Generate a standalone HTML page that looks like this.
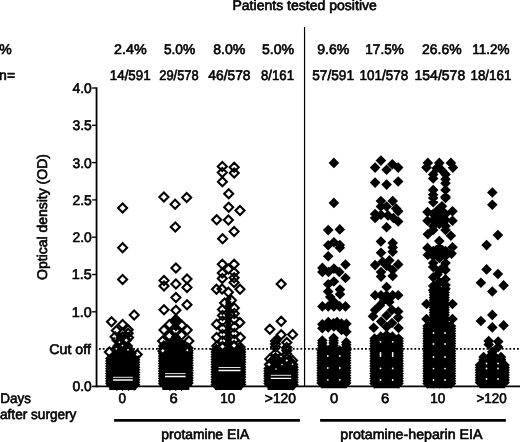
<!DOCTYPE html>
<html lang="en"><head><meta charset="utf-8"><title>Patients tested positive</title>
<style>html,body{margin:0;padding:0;background:#fff;overflow:hidden}svg{display:block;will-change:transform;filter:grayscale(1)}</style></head>
<body>
<svg width="520" height="442" viewBox="0 0 520 442" font-family="'Liberation Sans', Arial, sans-serif" fill="#000" stroke="#000" stroke-width="0.62" text-rendering="geometricPrecision">
<rect x="0" y="0" width="520" height="442" fill="#fff" stroke="none"/>
<g stroke="#000" fill="none">
<path d="M96.55 87.35V387.20" stroke-width="1.8"/>
<path d="M95.65 386.4H520" stroke-width="1.6"/>
<path d="M92.1 88.00H96" stroke-width="1.35"/>
<path d="M92.1 125.30H96" stroke-width="1.35"/>
<path d="M92.1 162.60H96" stroke-width="1.35"/>
<path d="M92.1 199.90H96" stroke-width="1.35"/>
<path d="M92.1 237.20H96" stroke-width="1.35"/>
<path d="M92.1 274.50H96" stroke-width="1.35"/>
<path d="M92.1 311.80H96" stroke-width="1.35"/>
<path d="M92.1 386.4H96" stroke-width="1.6"/>
</g>
<path d="M304.55 27V386" stroke="#000" stroke-width="1.2" fill="none"/>
<path d="M99.0 348.9H520" stroke="#000" stroke-width="1.8" stroke-dasharray="1.8 2.0" fill="none"/>
<path d="M114.1 420.3H299.9M320.1 420.3H505.9" stroke="#000" stroke-width="2.7" fill="none"/>
<path d="M115.6 336.0L119.8 331.8L124.0 336.0L119.8 340.2ZM115.6 338.0L119.8 333.8L124.0 338.0L119.8 342.2ZM115.6 340.0L119.8 335.8L124.0 340.0L119.8 344.2ZM115.6 342.0L119.8 337.8L124.0 342.0L119.8 346.2ZM115.6 344.0L119.8 339.8L124.0 344.0L119.8 348.2ZM115.6 346.0L119.8 341.8L124.0 346.0L119.8 350.2ZM115.6 348.0L119.8 343.8L124.0 348.0L119.8 352.2ZM115.6 350.0L119.8 345.8L124.0 350.0L119.8 354.2ZM115.6 352.0L119.8 347.8L124.0 352.0L119.8 356.2ZM121.4 336.0L125.6 331.8L129.8 336.0L125.6 340.2ZM121.4 338.0L125.6 333.8L129.8 338.0L125.6 342.2ZM121.4 340.0L125.6 335.8L129.8 340.0L125.6 344.2ZM121.4 342.0L125.6 337.8L129.8 342.0L125.6 346.2ZM121.4 344.0L125.6 339.8L129.8 344.0L125.6 348.2ZM121.4 346.0L125.6 341.8L129.8 346.0L125.6 350.2ZM121.4 348.0L125.6 343.8L129.8 348.0L125.6 352.2ZM121.4 350.0L125.6 345.8L129.8 350.0L125.6 354.2ZM121.4 352.0L125.6 347.8L129.8 352.0L125.6 356.2ZM112.1 346.0L117.1 341.0L122.1 346.0L117.1 351.0ZM112.1 348.0L117.1 343.0L122.1 348.0L117.1 353.0ZM112.1 350.0L117.1 345.0L122.1 350.0L117.1 355.0ZM112.1 352.0L117.1 347.0L122.1 352.0L117.1 357.0ZM112.1 354.0L117.1 349.0L122.1 354.0L117.1 359.0ZM117.7 346.0L122.7 341.0L127.7 346.0L122.7 351.0ZM117.7 348.0L122.7 343.0L127.7 348.0L122.7 353.0ZM117.7 350.0L122.7 345.0L127.7 350.0L122.7 355.0ZM117.7 352.0L122.7 347.0L127.7 352.0L122.7 357.0ZM117.7 354.0L122.7 349.0L127.7 354.0L122.7 359.0ZM123.3 346.0L128.3 341.0L133.3 346.0L128.3 351.0ZM123.3 348.0L128.3 343.0L133.3 348.0L128.3 353.0ZM123.3 350.0L128.3 345.0L133.3 350.0L128.3 355.0ZM123.3 352.0L128.3 347.0L133.3 352.0L128.3 357.0ZM123.3 354.0L128.3 349.0L133.3 354.0L128.3 359.0ZM108.0 352.6L114.0 346.6L120.0 352.6L114.0 358.6ZM108.0 355.1L114.0 349.1L120.0 355.1L114.0 361.1ZM113.8 353.4L119.8 347.4L125.8 353.4L119.8 359.4ZM113.8 355.9L119.8 349.9L125.8 355.9L119.8 361.9ZM119.6 352.9L125.6 346.9L131.6 352.9L125.6 358.9ZM119.6 355.4L125.6 349.4L131.6 355.4L125.6 361.4ZM125.4 353.5L131.4 347.5L137.4 353.5L131.4 359.5ZM125.4 356.0L131.4 350.0L137.4 356.0L131.4 362.0ZM110.9 357.0L116.9 351.0L122.9 357.0L116.9 363.0ZM110.9 359.0L116.9 353.0L122.9 359.0L116.9 365.0ZM110.9 361.0L116.9 355.0L122.9 361.0L116.9 367.0ZM110.9 363.0L116.9 357.0L122.9 363.0L116.9 369.0ZM110.9 365.0L116.9 359.0L122.9 365.0L116.9 371.0ZM110.9 367.0L116.9 361.0L122.9 367.0L116.9 373.0ZM110.9 369.0L116.9 363.0L122.9 369.0L116.9 375.0ZM110.9 371.0L116.9 365.0L122.9 371.0L116.9 377.0ZM110.9 373.0L116.9 367.0L122.9 373.0L116.9 379.0ZM110.9 375.0L116.9 369.0L122.9 375.0L116.9 381.0ZM110.9 377.0L116.9 371.0L122.9 377.0L116.9 383.0ZM110.9 379.0L116.9 373.0L122.9 379.0L116.9 385.0ZM110.9 381.0L116.9 375.0L122.9 381.0L116.9 387.0ZM110.9 383.0L116.9 377.0L122.9 383.0L116.9 389.0ZM110.9 385.0L116.9 379.0L122.9 385.0L116.9 391.0ZM116.7 357.0L122.7 351.0L128.7 357.0L122.7 363.0ZM116.7 359.0L122.7 353.0L128.7 359.0L122.7 365.0ZM116.7 361.0L122.7 355.0L128.7 361.0L122.7 367.0ZM116.7 363.0L122.7 357.0L128.7 363.0L122.7 369.0ZM116.7 365.0L122.7 359.0L128.7 365.0L122.7 371.0ZM116.7 367.0L122.7 361.0L128.7 367.0L122.7 373.0ZM116.7 369.0L122.7 363.0L128.7 369.0L122.7 375.0ZM116.7 371.0L122.7 365.0L128.7 371.0L122.7 377.0ZM116.7 373.0L122.7 367.0L128.7 373.0L122.7 379.0ZM116.7 375.0L122.7 369.0L128.7 375.0L122.7 381.0ZM116.7 377.0L122.7 371.0L128.7 377.0L122.7 383.0ZM116.7 379.0L122.7 373.0L128.7 379.0L122.7 385.0ZM116.7 381.0L122.7 375.0L128.7 381.0L122.7 387.0ZM116.7 383.0L122.7 377.0L128.7 383.0L122.7 389.0ZM116.7 385.0L122.7 379.0L128.7 385.0L122.7 391.0ZM122.6 357.0L128.6 351.0L134.6 357.0L128.6 363.0ZM122.6 359.0L128.6 353.0L134.6 359.0L128.6 365.0ZM122.6 361.0L128.6 355.0L134.6 361.0L128.6 367.0ZM122.6 363.0L128.6 357.0L134.6 363.0L128.6 369.0ZM122.6 365.0L128.6 359.0L134.6 365.0L128.6 371.0ZM122.6 367.0L128.6 361.0L134.6 367.0L128.6 373.0ZM122.6 369.0L128.6 363.0L134.6 369.0L128.6 375.0ZM122.6 371.0L128.6 365.0L134.6 371.0L128.6 377.0ZM122.6 373.0L128.6 367.0L134.6 373.0L128.6 379.0ZM122.6 375.0L128.6 369.0L134.6 375.0L128.6 381.0ZM122.6 377.0L128.6 371.0L134.6 377.0L128.6 383.0ZM122.6 379.0L128.6 373.0L134.6 379.0L128.6 385.0ZM122.6 381.0L128.6 375.0L134.6 381.0L128.6 387.0ZM122.6 383.0L128.6 377.0L134.6 383.0L128.6 389.0ZM122.6 385.0L128.6 379.0L134.6 385.0L128.6 391.0ZM105.0 358.6L111.0 352.6L117.0 358.6L111.0 364.6ZM105.0 361.1L111.0 355.1L117.0 361.1L111.0 367.1ZM105.0 363.6L111.0 357.6L117.0 363.6L111.0 369.6ZM105.0 366.1L111.0 360.1L117.0 366.1L111.0 372.1ZM105.0 368.6L111.0 362.6L117.0 368.6L111.0 374.6ZM105.0 371.1L111.0 365.1L117.0 371.1L111.0 377.1ZM105.0 373.6L111.0 367.6L117.0 373.6L111.0 379.6ZM105.0 376.1L111.0 370.1L117.0 376.1L111.0 382.1ZM105.0 378.6L111.0 372.6L117.0 378.6L111.0 384.6ZM105.0 381.1L111.0 375.1L117.0 381.1L111.0 387.1ZM105.0 383.6L111.0 377.6L117.0 383.6L111.0 389.6ZM128.4 357.2L134.4 351.2L140.4 357.2L134.4 363.2ZM128.4 359.7L134.4 353.7L140.4 359.7L134.4 365.7ZM128.4 362.2L134.4 356.2L140.4 362.2L134.4 368.2ZM128.4 364.7L134.4 358.7L140.4 364.7L134.4 370.7ZM128.4 367.2L134.4 361.2L140.4 367.2L134.4 373.2ZM128.4 369.7L134.4 363.7L140.4 369.7L134.4 375.7ZM128.4 372.2L134.4 366.2L140.4 372.2L134.4 378.2ZM128.4 374.7L134.4 368.7L140.4 374.7L134.4 380.7ZM128.4 377.2L134.4 371.2L140.4 377.2L134.4 383.2ZM128.4 379.7L134.4 373.7L140.4 379.7L134.4 385.7ZM128.4 382.2L134.4 376.2L140.4 382.2L134.4 388.2ZM128.4 384.7L134.4 378.7L140.4 384.7L134.4 390.7ZM109.2 378H136.2V390.1H109.2ZM106.4 370H139.0V386H106.4ZM172.2 320.0L175.8 316.4L179.4 320.0L175.8 323.6ZM172.2 322.0L175.8 318.4L179.4 322.0L175.8 325.6ZM172.2 324.0L175.8 320.4L179.4 324.0L175.8 327.6ZM172.2 326.0L175.8 322.4L179.4 326.0L175.8 329.6ZM172.2 328.0L175.8 324.4L179.4 328.0L175.8 331.6ZM170.8 337.0L175.8 332.0L180.8 337.0L175.8 342.0ZM170.8 339.0L175.8 334.0L180.8 339.0L175.8 344.0ZM170.8 341.0L175.8 336.0L180.8 341.0L175.8 346.0ZM170.8 343.0L175.8 338.0L180.8 343.0L175.8 348.0ZM170.8 345.0L175.8 340.0L180.8 345.0L175.8 350.0ZM170.8 347.0L175.8 342.0L180.8 347.0L175.8 352.0ZM166.0 342.0L170.0 338.0L174.0 342.0L170.0 346.0ZM166.0 344.0L170.0 340.0L174.0 344.0L170.0 348.0ZM166.0 346.0L170.0 342.0L174.0 346.0L170.0 350.0ZM177.6 342.0L181.6 338.0L185.6 342.0L181.6 346.0ZM177.6 344.0L181.6 340.0L185.6 344.0L181.6 348.0ZM177.6 346.0L181.6 342.0L185.6 346.0L181.6 350.0ZM164.0 347.0L170.0 341.0L176.0 347.0L170.0 353.0ZM164.0 349.0L170.0 343.0L176.0 349.0L170.0 355.0ZM164.0 351.0L170.0 345.0L176.0 351.0L170.0 357.0ZM164.0 353.0L170.0 347.0L176.0 353.0L170.0 359.0ZM164.0 355.0L170.0 349.0L176.0 355.0L170.0 361.0ZM164.0 357.0L170.0 351.0L176.0 357.0L170.0 363.0ZM164.0 359.0L170.0 353.0L176.0 359.0L170.0 365.0ZM164.0 361.0L170.0 355.0L176.0 361.0L170.0 367.0ZM164.0 363.0L170.0 357.0L176.0 363.0L170.0 369.0ZM164.0 365.0L170.0 359.0L176.0 365.0L170.0 371.0ZM164.0 367.0L170.0 361.0L176.0 367.0L170.0 373.0ZM164.0 369.0L170.0 363.0L176.0 369.0L170.0 375.0ZM164.0 371.0L170.0 365.0L176.0 371.0L170.0 377.0ZM164.0 373.0L170.0 367.0L176.0 373.0L170.0 379.0ZM164.0 375.0L170.0 369.0L176.0 375.0L170.0 381.0ZM164.0 377.0L170.0 371.0L176.0 377.0L170.0 383.0ZM164.0 379.0L170.0 373.0L176.0 379.0L170.0 385.0ZM164.0 381.0L170.0 375.0L176.0 381.0L170.0 387.0ZM164.0 383.0L170.0 377.0L176.0 383.0L170.0 389.0ZM164.0 385.0L170.0 379.0L176.0 385.0L170.0 391.0ZM169.8 347.0L175.8 341.0L181.8 347.0L175.8 353.0ZM169.8 349.0L175.8 343.0L181.8 349.0L175.8 355.0ZM169.8 351.0L175.8 345.0L181.8 351.0L175.8 357.0ZM169.8 353.0L175.8 347.0L181.8 353.0L175.8 359.0ZM169.8 355.0L175.8 349.0L181.8 355.0L175.8 361.0ZM169.8 357.0L175.8 351.0L181.8 357.0L175.8 363.0ZM169.8 359.0L175.8 353.0L181.8 359.0L175.8 365.0ZM169.8 361.0L175.8 355.0L181.8 361.0L175.8 367.0ZM169.8 363.0L175.8 357.0L181.8 363.0L175.8 369.0ZM169.8 365.0L175.8 359.0L181.8 365.0L175.8 371.0ZM169.8 367.0L175.8 361.0L181.8 367.0L175.8 373.0ZM169.8 369.0L175.8 363.0L181.8 369.0L175.8 375.0ZM169.8 371.0L175.8 365.0L181.8 371.0L175.8 377.0ZM169.8 373.0L175.8 367.0L181.8 373.0L175.8 379.0ZM169.8 375.0L175.8 369.0L181.8 375.0L175.8 381.0ZM169.8 377.0L175.8 371.0L181.8 377.0L175.8 383.0ZM169.8 379.0L175.8 373.0L181.8 379.0L175.8 385.0ZM169.8 381.0L175.8 375.0L181.8 381.0L175.8 387.0ZM169.8 383.0L175.8 377.0L181.8 383.0L175.8 389.0ZM169.8 385.0L175.8 379.0L181.8 385.0L175.8 391.0ZM175.6 347.0L181.6 341.0L187.6 347.0L181.6 353.0ZM175.6 349.0L181.6 343.0L187.6 349.0L181.6 355.0ZM175.6 351.0L181.6 345.0L187.6 351.0L181.6 357.0ZM175.6 353.0L181.6 347.0L187.6 353.0L181.6 359.0ZM175.6 355.0L181.6 349.0L187.6 355.0L181.6 361.0ZM175.6 357.0L181.6 351.0L187.6 357.0L181.6 363.0ZM175.6 359.0L181.6 353.0L187.6 359.0L181.6 365.0ZM175.6 361.0L181.6 355.0L187.6 361.0L181.6 367.0ZM175.6 363.0L181.6 357.0L187.6 363.0L181.6 369.0ZM175.6 365.0L181.6 359.0L187.6 365.0L181.6 371.0ZM175.6 367.0L181.6 361.0L187.6 367.0L181.6 373.0ZM175.6 369.0L181.6 363.0L187.6 369.0L181.6 375.0ZM175.6 371.0L181.6 365.0L187.6 371.0L181.6 377.0ZM175.6 373.0L181.6 367.0L187.6 373.0L181.6 379.0ZM175.6 375.0L181.6 369.0L187.6 375.0L181.6 381.0ZM175.6 377.0L181.6 371.0L187.6 377.0L181.6 383.0ZM175.6 379.0L181.6 373.0L187.6 379.0L181.6 385.0ZM175.6 381.0L181.6 375.0L187.6 381.0L181.6 387.0ZM175.6 383.0L181.6 377.0L187.6 383.0L181.6 389.0ZM175.6 385.0L181.6 379.0L187.6 385.0L181.6 391.0ZM157.8 346.0L163.8 340.0L169.8 346.0L163.8 352.0ZM157.8 348.5L163.8 342.5L169.8 348.5L163.8 354.5ZM157.8 351.0L163.8 345.0L169.8 351.0L163.8 357.0ZM157.8 353.5L163.8 347.5L169.8 353.5L163.8 359.5ZM157.8 356.0L163.8 350.0L169.8 356.0L163.8 362.0ZM157.8 358.5L163.8 352.5L169.8 358.5L163.8 364.5ZM157.8 361.0L163.8 355.0L169.8 361.0L163.8 367.0ZM157.8 363.5L163.8 357.5L169.8 363.5L163.8 369.5ZM157.8 366.0L163.8 360.0L169.8 366.0L163.8 372.0ZM157.8 368.5L163.8 362.5L169.8 368.5L163.8 374.5ZM157.8 371.0L163.8 365.0L169.8 371.0L163.8 377.0ZM157.8 373.5L163.8 367.5L169.8 373.5L163.8 379.5ZM157.8 376.0L163.8 370.0L169.8 376.0L163.8 382.0ZM157.8 378.5L163.8 372.5L169.8 378.5L163.8 384.5ZM157.8 381.0L163.8 375.0L169.8 381.0L163.8 387.0ZM157.8 383.5L163.8 377.5L169.8 383.5L163.8 389.5ZM181.8 348.1L187.8 342.1L193.8 348.1L187.8 354.1ZM181.8 350.6L187.8 344.6L193.8 350.6L187.8 356.6ZM181.8 353.1L187.8 347.1L193.8 353.1L187.8 359.1ZM181.8 355.6L187.8 349.6L193.8 355.6L187.8 361.6ZM181.8 358.1L187.8 352.1L193.8 358.1L187.8 364.1ZM181.8 360.6L187.8 354.6L193.8 360.6L187.8 366.6ZM181.8 363.1L187.8 357.1L193.8 363.1L187.8 369.1ZM181.8 365.6L187.8 359.6L193.8 365.6L187.8 371.6ZM181.8 368.1L187.8 362.1L193.8 368.1L187.8 374.1ZM181.8 370.6L187.8 364.6L193.8 370.6L187.8 376.6ZM181.8 373.1L187.8 367.1L193.8 373.1L187.8 379.1ZM181.8 375.6L187.8 369.6L193.8 375.6L187.8 381.6ZM181.8 378.1L187.8 372.1L193.8 378.1L187.8 384.1ZM181.8 380.6L187.8 374.6L193.8 380.6L187.8 386.6ZM181.8 383.1L187.8 377.1L193.8 383.1L187.8 389.1ZM162.3 378H189.3V390.1H162.3ZM159.5 370H192.1V386H159.5ZM225.0 299.0L228.4 295.6L231.8 299.0L228.4 302.4ZM225.0 301.0L228.4 297.6L231.8 301.0L228.4 304.4ZM225.0 303.0L228.4 299.6L231.8 303.0L228.4 306.4ZM225.0 305.0L228.4 301.6L231.8 305.0L228.4 308.4ZM225.0 307.0L228.4 303.6L231.8 307.0L228.4 310.4ZM225.0 309.0L228.4 305.6L231.8 309.0L228.4 312.4ZM225.0 311.0L228.4 307.6L231.8 311.0L228.4 314.4ZM225.0 313.0L228.4 309.6L231.8 313.0L228.4 316.4ZM225.0 315.0L228.4 311.6L231.8 315.0L228.4 318.4ZM225.0 317.0L228.4 313.6L231.8 317.0L228.4 320.4ZM225.0 319.0L228.4 315.6L231.8 319.0L228.4 322.4ZM225.0 321.0L228.4 317.6L231.8 321.0L228.4 324.4ZM225.0 323.0L228.4 319.6L231.8 323.0L228.4 326.4ZM225.0 325.0L228.4 321.6L231.8 325.0L228.4 328.4ZM225.0 327.0L228.4 323.6L231.8 327.0L228.4 330.4ZM225.0 329.0L228.4 325.6L231.8 329.0L228.4 332.4ZM225.0 331.0L228.4 327.6L231.8 331.0L228.4 334.4ZM225.0 333.0L228.4 329.6L231.8 333.0L228.4 336.4ZM225.0 335.0L228.4 331.6L231.8 335.0L228.4 338.4ZM225.0 337.0L228.4 333.6L231.8 337.0L228.4 340.4ZM225.0 339.0L228.4 335.6L231.8 339.0L228.4 342.4ZM225.0 341.0L228.4 337.6L231.8 341.0L228.4 344.4ZM225.0 343.0L228.4 339.6L231.8 343.0L228.4 346.4ZM225.0 345.0L228.4 341.6L231.8 345.0L228.4 348.4ZM225.0 347.0L228.4 343.6L231.8 347.0L228.4 350.4ZM216.6 347.5L222.6 341.5L228.6 347.5L222.6 353.5ZM216.6 349.5L222.6 343.5L228.6 349.5L222.6 355.5ZM216.6 351.5L222.6 345.5L228.6 351.5L222.6 357.5ZM216.6 353.5L222.6 347.5L228.6 353.5L222.6 359.5ZM216.6 355.5L222.6 349.5L228.6 355.5L222.6 361.5ZM216.6 357.5L222.6 351.5L228.6 357.5L222.6 363.5ZM216.6 359.5L222.6 353.5L228.6 359.5L222.6 365.5ZM216.6 361.5L222.6 355.5L228.6 361.5L222.6 367.5ZM216.6 363.5L222.6 357.5L228.6 363.5L222.6 369.5ZM216.6 365.5L222.6 359.5L228.6 365.5L222.6 371.5ZM216.6 367.5L222.6 361.5L228.6 367.5L222.6 373.5ZM216.6 369.5L222.6 363.5L228.6 369.5L222.6 375.5ZM216.6 371.5L222.6 365.5L228.6 371.5L222.6 377.5ZM216.6 373.5L222.6 367.5L228.6 373.5L222.6 379.5ZM216.6 375.5L222.6 369.5L228.6 375.5L222.6 381.5ZM216.6 377.5L222.6 371.5L228.6 377.5L222.6 383.5ZM216.6 379.5L222.6 373.5L228.6 379.5L222.6 385.5ZM216.6 381.5L222.6 375.5L228.6 381.5L222.6 387.5ZM216.6 383.5L222.6 377.5L228.6 383.5L222.6 389.5ZM222.4 347.5L228.4 341.5L234.4 347.5L228.4 353.5ZM222.4 349.5L228.4 343.5L234.4 349.5L228.4 355.5ZM222.4 351.5L228.4 345.5L234.4 351.5L228.4 357.5ZM222.4 353.5L228.4 347.5L234.4 353.5L228.4 359.5ZM222.4 355.5L228.4 349.5L234.4 355.5L228.4 361.5ZM222.4 357.5L228.4 351.5L234.4 357.5L228.4 363.5ZM222.4 359.5L228.4 353.5L234.4 359.5L228.4 365.5ZM222.4 361.5L228.4 355.5L234.4 361.5L228.4 367.5ZM222.4 363.5L228.4 357.5L234.4 363.5L228.4 369.5ZM222.4 365.5L228.4 359.5L234.4 365.5L228.4 371.5ZM222.4 367.5L228.4 361.5L234.4 367.5L228.4 373.5ZM222.4 369.5L228.4 363.5L234.4 369.5L228.4 375.5ZM222.4 371.5L228.4 365.5L234.4 371.5L228.4 377.5ZM222.4 373.5L228.4 367.5L234.4 373.5L228.4 379.5ZM222.4 375.5L228.4 369.5L234.4 375.5L228.4 381.5ZM222.4 377.5L228.4 371.5L234.4 377.5L228.4 383.5ZM222.4 379.5L228.4 373.5L234.4 379.5L228.4 385.5ZM222.4 381.5L228.4 375.5L234.4 381.5L228.4 387.5ZM222.4 383.5L228.4 377.5L234.4 383.5L228.4 389.5ZM228.2 347.5L234.2 341.5L240.2 347.5L234.2 353.5ZM228.2 349.5L234.2 343.5L240.2 349.5L234.2 355.5ZM228.2 351.5L234.2 345.5L240.2 351.5L234.2 357.5ZM228.2 353.5L234.2 347.5L240.2 353.5L234.2 359.5ZM228.2 355.5L234.2 349.5L240.2 355.5L234.2 361.5ZM228.2 357.5L234.2 351.5L240.2 357.5L234.2 363.5ZM228.2 359.5L234.2 353.5L240.2 359.5L234.2 365.5ZM228.2 361.5L234.2 355.5L240.2 361.5L234.2 367.5ZM228.2 363.5L234.2 357.5L240.2 363.5L234.2 369.5ZM228.2 365.5L234.2 359.5L240.2 365.5L234.2 371.5ZM228.2 367.5L234.2 361.5L240.2 367.5L234.2 373.5ZM228.2 369.5L234.2 363.5L240.2 369.5L234.2 375.5ZM228.2 371.5L234.2 365.5L240.2 371.5L234.2 377.5ZM228.2 373.5L234.2 367.5L240.2 373.5L234.2 379.5ZM228.2 375.5L234.2 369.5L240.2 375.5L234.2 381.5ZM228.2 377.5L234.2 371.5L240.2 377.5L234.2 383.5ZM228.2 379.5L234.2 373.5L240.2 379.5L234.2 385.5ZM228.2 381.5L234.2 375.5L240.2 381.5L234.2 387.5ZM228.2 383.5L234.2 377.5L240.2 383.5L234.2 389.5ZM210.4 349.6L216.4 343.6L222.4 349.6L216.4 355.6ZM210.4 352.1L216.4 346.1L222.4 352.1L216.4 358.1ZM210.4 354.6L216.4 348.6L222.4 354.6L216.4 360.6ZM210.4 357.1L216.4 351.1L222.4 357.1L216.4 363.1ZM210.4 359.6L216.4 353.6L222.4 359.6L216.4 365.6ZM210.4 362.1L216.4 356.1L222.4 362.1L216.4 368.1ZM210.4 364.6L216.4 358.6L222.4 364.6L216.4 370.6ZM210.4 367.1L216.4 361.1L222.4 367.1L216.4 373.1ZM210.4 369.6L216.4 363.6L222.4 369.6L216.4 375.6ZM210.4 372.1L216.4 366.1L222.4 372.1L216.4 378.1ZM210.4 374.6L216.4 368.6L222.4 374.6L216.4 380.6ZM210.4 377.1L216.4 371.1L222.4 377.1L216.4 383.1ZM210.4 379.6L216.4 373.6L222.4 379.6L216.4 385.6ZM210.4 382.1L216.4 376.1L222.4 382.1L216.4 388.1ZM210.4 384.6L216.4 378.6L222.4 384.6L216.4 390.6ZM234.4 349.6L240.4 343.6L246.4 349.6L240.4 355.6ZM234.4 352.1L240.4 346.1L246.4 352.1L240.4 358.1ZM234.4 354.6L240.4 348.6L246.4 354.6L240.4 360.6ZM234.4 357.1L240.4 351.1L246.4 357.1L240.4 363.1ZM234.4 359.6L240.4 353.6L246.4 359.6L240.4 365.6ZM234.4 362.1L240.4 356.1L246.4 362.1L240.4 368.1ZM234.4 364.6L240.4 358.6L246.4 364.6L240.4 370.6ZM234.4 367.1L240.4 361.1L246.4 367.1L240.4 373.1ZM234.4 369.6L240.4 363.6L246.4 369.6L240.4 375.6ZM234.4 372.1L240.4 366.1L246.4 372.1L240.4 378.1ZM234.4 374.6L240.4 368.6L246.4 374.6L240.4 380.6ZM234.4 377.1L240.4 371.1L246.4 377.1L240.4 383.1ZM234.4 379.6L240.4 373.6L246.4 379.6L240.4 385.6ZM234.4 382.1L240.4 376.1L246.4 382.1L240.4 388.1ZM234.4 384.6L240.4 378.6L246.4 384.6L240.4 390.6ZM214.9 378H241.9V390.1H214.9ZM212.1 370H244.7V386H212.1ZM270.0 358.5L275.5 353.0L281.0 358.5L275.5 364.0ZM270.0 360.5L275.5 355.0L281.0 360.5L275.5 366.0ZM266.4 361.0L272.4 355.0L278.4 361.0L272.4 367.0ZM266.4 363.0L272.4 357.0L278.4 363.0L272.4 369.0ZM266.4 365.0L272.4 359.0L278.4 365.0L272.4 371.0ZM272.1 361.0L278.1 355.0L284.1 361.0L278.1 367.0ZM272.1 363.0L278.1 357.0L284.1 363.0L278.1 369.0ZM272.1 365.0L278.1 359.0L284.1 365.0L278.1 371.0ZM277.9 361.0L283.9 355.0L289.9 361.0L283.9 367.0ZM277.9 363.0L283.9 357.0L289.9 363.0L283.9 369.0ZM277.9 365.0L283.9 359.0L289.9 365.0L283.9 371.0ZM283.6 361.0L289.6 355.0L295.6 361.0L289.6 367.0ZM283.6 363.0L289.6 357.0L295.6 363.0L289.6 369.0ZM283.6 365.0L289.6 359.0L295.6 365.0L289.6 371.0ZM269.2 364.0L275.2 358.0L281.2 364.0L275.2 370.0ZM269.2 366.0L275.2 360.0L281.2 366.0L275.2 372.0ZM269.2 368.0L275.2 362.0L281.2 368.0L275.2 374.0ZM269.2 370.0L275.2 364.0L281.2 370.0L275.2 376.0ZM269.2 372.0L275.2 366.0L281.2 372.0L275.2 378.0ZM269.2 374.0L275.2 368.0L281.2 374.0L275.2 380.0ZM269.2 376.0L275.2 370.0L281.2 376.0L275.2 382.0ZM269.2 378.0L275.2 372.0L281.2 378.0L275.2 384.0ZM269.2 380.0L275.2 374.0L281.2 380.0L275.2 386.0ZM269.2 382.0L275.2 376.0L281.2 382.0L275.2 388.0ZM269.2 384.0L275.2 378.0L281.2 384.0L275.2 390.0ZM275.0 364.0L281.0 358.0L287.0 364.0L281.0 370.0ZM275.0 366.0L281.0 360.0L287.0 366.0L281.0 372.0ZM275.0 368.0L281.0 362.0L287.0 368.0L281.0 374.0ZM275.0 370.0L281.0 364.0L287.0 370.0L281.0 376.0ZM275.0 372.0L281.0 366.0L287.0 372.0L281.0 378.0ZM275.0 374.0L281.0 368.0L287.0 374.0L281.0 380.0ZM275.0 376.0L281.0 370.0L287.0 376.0L281.0 382.0ZM275.0 378.0L281.0 372.0L287.0 378.0L281.0 384.0ZM275.0 380.0L281.0 374.0L287.0 380.0L281.0 386.0ZM275.0 382.0L281.0 376.0L287.0 382.0L281.0 388.0ZM275.0 384.0L281.0 378.0L287.0 384.0L281.0 390.0ZM280.8 364.0L286.8 358.0L292.8 364.0L286.8 370.0ZM280.8 366.0L286.8 360.0L292.8 366.0L286.8 372.0ZM280.8 368.0L286.8 362.0L292.8 368.0L286.8 374.0ZM280.8 370.0L286.8 364.0L292.8 370.0L286.8 376.0ZM280.8 372.0L286.8 366.0L292.8 372.0L286.8 378.0ZM280.8 374.0L286.8 368.0L292.8 374.0L286.8 380.0ZM280.8 376.0L286.8 370.0L292.8 376.0L286.8 382.0ZM280.8 378.0L286.8 372.0L292.8 378.0L286.8 384.0ZM280.8 380.0L286.8 374.0L292.8 380.0L286.8 386.0ZM280.8 382.0L286.8 376.0L292.8 382.0L286.8 388.0ZM280.8 384.0L286.8 378.0L292.8 384.0L286.8 390.0ZM263.2 368.5L269.2 362.5L275.2 368.5L269.2 374.5ZM263.2 371.0L269.2 365.0L275.2 371.0L269.2 377.0ZM263.2 373.5L269.2 367.5L275.2 373.5L269.2 379.5ZM263.2 376.0L269.2 370.0L275.2 376.0L269.2 382.0ZM263.2 378.5L269.2 372.5L275.2 378.5L269.2 384.5ZM263.2 381.0L269.2 375.0L275.2 381.0L269.2 387.0ZM263.2 383.5L269.2 377.5L275.2 383.5L269.2 389.5ZM286.8 367.2L292.8 361.2L298.8 367.2L292.8 373.2ZM286.8 369.7L292.8 363.7L298.8 369.7L292.8 375.7ZM286.8 372.2L292.8 366.2L298.8 372.2L292.8 378.2ZM286.8 374.7L292.8 368.7L298.8 374.7L292.8 380.7ZM286.8 377.2L292.8 371.2L298.8 377.2L292.8 383.2ZM286.8 379.7L292.8 373.7L298.8 379.7L292.8 385.7ZM286.8 382.2L292.8 376.2L298.8 382.2L292.8 388.2ZM286.8 384.7L292.8 378.7L298.8 384.7L292.8 390.7ZM267.5 378H294.5V390.1H267.5ZM264.7 370H297.3V386H264.7Z" fill="#000" stroke="none"/>
<path d="M118.1 208.1L122.6 203.6L127.1 208.1L122.6 212.6ZM118.1 247.8L122.6 243.3L127.1 247.8L122.6 252.3ZM118.1 279.6L122.6 275.1L127.1 279.6L122.6 284.1ZM107.0 321.7L111.5 317.2L116.0 321.7L111.5 326.2ZM129.7 315.1L134.2 310.6L138.7 315.1L134.2 319.6ZM118.1 324.4L122.6 319.9L127.1 324.4L122.6 328.9ZM111.9 330.6L116.4 326.1L120.9 330.6L116.4 335.1ZM123.7 329.8L128.2 325.3L132.7 329.8L128.2 334.3ZM123.7 333.2L128.2 328.7L132.7 333.2L128.2 337.7ZM110.6 336.8L115.1 332.3L119.6 336.8L115.1 341.3ZM121.8 340.3L126.3 335.8L130.8 340.3L126.3 344.8ZM114.9 342.2L119.4 337.7L123.9 342.2L119.4 346.7ZM118.0 345.5L122.5 341.0L127.0 345.5L122.5 350.0ZM111.8 348.8L116.3 344.3L120.8 348.8L116.3 353.3ZM123.5 349.8L128.0 345.3L132.5 349.8L128.0 354.3ZM104.9 351.9L109.4 347.4L113.9 351.9L109.4 356.4ZM132.7 354.6L137.2 350.1L141.7 354.6L137.2 359.1ZM118.1 337.0L122.6 332.5L127.1 337.0L122.6 341.5ZM118.1 333.0L122.6 328.5L127.1 333.0L122.6 337.5ZM124.0 337.5L128.5 333.0L133.0 337.5L128.5 342.0ZM112.5 340.0L117.0 335.5L121.5 340.0L117.0 344.5ZM159.4 197.0L163.9 192.5L168.4 197.0L163.9 201.5ZM170.6 204.2L175.1 199.7L179.6 204.2L175.1 208.7ZM182.2 197.4L186.7 192.9L191.2 197.4L186.7 201.9ZM170.8 227.0L175.3 222.5L179.8 227.0L175.3 231.5ZM171.4 268.0L175.9 263.5L180.4 268.0L175.9 272.5ZM159.5 280.6L164.0 276.1L168.5 280.6L164.0 285.1ZM159.5 286.0L164.0 281.5L168.5 286.0L164.0 290.5ZM171.4 284.0L175.9 279.5L180.4 284.0L175.9 288.5ZM182.5 279.0L187.0 274.5L191.5 279.0L187.0 283.5ZM182.5 287.4L187.0 282.9L191.5 287.4L187.0 291.9ZM171.4 297.6L175.9 293.1L180.4 297.6L175.9 302.1ZM182.5 304.8L187.0 300.3L191.5 304.8L187.0 309.3ZM159.5 309.8L164.0 305.3L168.5 309.8L164.0 314.3ZM171.4 310.3L175.9 305.8L180.4 310.3L175.9 314.8ZM171.3 319.5L175.8 315.0L180.3 319.5L175.8 324.0ZM171.3 322.5L175.8 318.0L180.3 322.5L175.8 327.0ZM165.0 324.5L169.5 320.0L174.0 324.5L169.5 329.0ZM177.3 325.2L181.8 320.7L186.3 325.2L181.8 329.7ZM159.5 330.0L164.0 325.5L168.5 330.0L164.0 334.5ZM171.1 330.4L175.6 325.9L180.1 330.4L175.6 334.9ZM182.7 330.0L187.2 325.5L191.7 330.0L187.2 334.5ZM164.8 336.0L169.3 331.5L173.8 336.0L169.3 340.5ZM177.1 335.3L181.6 330.8L186.1 335.3L181.6 339.8ZM158.1 341.0L162.6 336.5L167.1 341.0L162.6 345.5ZM184.3 341.0L188.8 336.5L193.3 341.0L188.8 345.5ZM171.3 341.0L175.8 336.5L180.3 341.0L175.8 345.5ZM164.5 346.5L169.0 342.0L173.5 346.5L169.0 351.0ZM177.5 346.5L182.0 342.0L186.5 346.5L182.0 351.0ZM158.5 351.0L163.0 346.5L167.5 351.0L163.0 355.5ZM182.8 351.0L187.3 346.5L191.8 351.0L187.3 355.5ZM182.8 348.5L187.3 344.0L191.8 348.5L187.3 353.0ZM217.8 166.5L222.3 162.0L226.8 166.5L222.3 171.0ZM217.8 172.4L222.3 167.9L226.8 172.4L222.3 176.9ZM229.7 167.3L234.2 162.8L238.7 167.3L234.2 171.8ZM229.7 172.9L234.2 168.4L238.7 172.9L234.2 177.4ZM217.9 181.8L222.4 177.3L226.9 181.8L222.4 186.3ZM224.2 193.7L228.7 189.2L233.2 193.7L228.7 198.2ZM224.2 207.2L228.7 202.7L233.2 207.2L228.7 211.7ZM235.5 210.6L240.0 206.1L244.5 210.6L240.0 215.1ZM212.2 219.7L216.7 215.2L221.2 219.7L216.7 224.2ZM223.9 220.0L228.4 215.5L232.9 220.0L228.4 224.5ZM229.6 231.5L234.1 227.0L238.6 231.5L234.1 236.0ZM218.1 238.7L222.6 234.2L227.1 238.7L222.6 243.2ZM217.8 264.2L222.3 259.7L226.8 264.2L222.3 268.7ZM229.6 264.2L234.1 259.7L238.6 264.2L234.1 268.7ZM223.9 269.0L228.4 264.5L232.9 269.0L228.4 273.5ZM217.8 273.0L222.3 268.5L226.8 273.0L222.3 277.5ZM229.6 272.4L234.1 267.9L238.6 272.4L234.1 276.9ZM217.8 278.5L222.3 274.0L226.8 278.5L222.3 283.0ZM229.6 277.8L234.1 273.3L238.6 277.8L234.1 282.3ZM229.6 282.6L234.1 278.1L238.6 282.6L234.1 287.1ZM212.0 289.3L216.5 284.8L221.0 289.3L216.5 293.8ZM217.5 289.0L222.0 284.5L226.5 289.0L222.0 293.5ZM235.5 289.3L240.0 284.8L244.5 289.3L240.0 293.8ZM223.9 292.3L228.4 287.8L232.9 292.3L228.4 296.8ZM226.9 300.2L231.4 295.7L235.9 300.2L231.4 304.7ZM220.1 303.0L224.6 298.5L229.1 303.0L224.6 307.5ZM218.0 309.4L222.5 304.9L227.0 309.4L222.5 313.9ZM229.8 308.0L234.3 303.5L238.8 308.0L234.3 312.5ZM225.7 314.8L230.2 310.3L234.7 314.8L230.2 319.3ZM218.0 315.5L222.5 311.0L227.0 315.5L222.5 320.0ZM229.8 313.5L234.3 309.0L238.8 313.5L234.3 318.0ZM229.8 319.2L234.3 314.7L238.8 319.2L234.3 323.7ZM218.0 321.0L222.5 316.5L227.0 321.0L222.5 325.5ZM212.1 324.2L216.6 319.7L221.1 324.2L216.6 328.7ZM235.3 322.6L239.8 318.1L244.3 322.6L239.8 327.1ZM218.0 328.5L222.5 324.0L227.0 328.5L222.5 333.0ZM229.8 327.0L234.3 322.5L238.8 327.0L234.3 331.5ZM218.0 334.4L222.5 329.9L227.0 334.4L222.5 338.9ZM229.8 333.5L234.3 329.0L238.8 333.5L234.3 338.0ZM212.1 337.6L216.6 333.1L221.1 337.6L216.6 342.1ZM235.9 337.6L240.4 333.1L244.9 337.6L240.4 342.1ZM218.0 341.0L222.5 336.5L227.0 341.0L222.5 345.5ZM229.8 340.0L234.3 335.5L238.8 340.0L234.3 344.5ZM218.0 346.4L222.5 341.9L227.0 346.4L222.5 350.9ZM229.5 345.4L234.0 340.9L238.5 345.4L234.0 349.9ZM212.3 346.0L216.8 341.5L221.3 346.0L216.8 350.5ZM235.5 347.0L240.0 342.5L244.5 347.0L240.0 351.5ZM276.7 284.0L281.2 279.5L285.7 284.0L281.2 288.5ZM276.7 321.2L281.2 316.7L285.7 321.2L281.2 325.7ZM265.3 329.3L269.8 324.8L274.3 329.3L269.8 333.8ZM276.7 334.8L281.2 330.3L285.7 334.8L281.2 339.3ZM288.1 334.5L292.6 330.0L297.1 334.5L292.6 339.0ZM271.0 341.0L275.5 336.5L280.0 341.0L275.5 345.5ZM271.0 344.0L275.5 339.5L280.0 344.0L275.5 348.5ZM271.0 347.0L275.5 342.5L280.0 347.0L275.5 351.5ZM282.3 342.4L286.8 337.9L291.3 342.4L286.8 346.9ZM282.3 347.6L286.8 343.1L291.3 347.6L286.8 352.1ZM282.3 350.5L286.8 346.0L291.3 350.5L286.8 355.0ZM282.3 354.0L286.8 349.5L291.3 354.0L286.8 358.5ZM271.0 353.5L275.5 349.0L280.0 353.5L275.5 358.0ZM265.3 359.0L269.8 354.5L274.3 359.0L269.8 363.5ZM276.5 358.5L281.0 354.0L285.5 358.5L281.0 363.0ZM271.0 358.0L275.5 353.5L280.0 358.0L275.5 362.5ZM282.3 358.5L286.8 354.0L291.3 358.5L286.8 363.0ZM265.0 364.5L269.5 360.0L274.0 364.5L269.5 369.0ZM271.0 363.0L275.5 358.5L280.0 363.0L275.5 367.5ZM277.0 364.5L281.5 360.0L286.0 364.5L281.5 369.0ZM282.5 362.0L287.0 357.5L291.5 362.0L287.0 366.5ZM288.1 360.5L292.6 356.0L297.1 360.5L292.6 365.0ZM288.1 364.5L292.6 360.0L297.1 364.5L292.6 369.0Z" fill="none" stroke="#000" stroke-width="2.1" stroke-linejoin="miter"/>
<path d="M113.8 336.8L115.1 335.5L116.4 336.8L115.1 338.1ZM124.6 340.3L126.3 338.6L128.0 340.3L126.3 342.0ZM118.3 342.2L119.4 341.1L120.5 342.2L119.4 343.3ZM121.4 345.5L122.5 344.4L123.6 345.5L122.5 346.6ZM115.2 348.8L116.3 347.7L117.4 348.8L116.3 349.9ZM126.9 349.8L128.0 348.7L129.1 349.8L128.0 350.9ZM106.8 351.9L109.4 349.3L112.0 351.9L109.4 354.5ZM135.6 354.6L137.2 353.0L138.8 354.6L137.2 356.2ZM161.0 350.8L162.8 349.0L164.6 350.8L162.8 352.6ZM186.1 350.2L187.3 349.0L188.5 350.2L187.3 351.4ZM220.3 346.6L222.5 344.4L224.7 346.6L222.5 348.8ZM231.8 345.6L234.0 343.4L236.2 345.6L234.0 347.8ZM267.2 364.5L269.0 362.7L270.8 364.5L269.0 366.3ZM281.0 364.5L282.0 363.5L283.0 364.5L282.0 365.5ZM285.5 360.5L286.8 359.2L288.1 360.5L286.8 361.8ZM291.5 364.3L292.5 363.3L293.5 364.3L292.5 365.3ZM275.1 369.0L276.0 368.1L276.9 369.0L276.0 369.9Z" fill="#fff" stroke="none"/>
<path d="M328.6 162.9L333.9 157.6L339.2 162.9L333.9 168.2ZM328.6 202.9L333.9 197.6L339.2 202.9L333.9 208.2ZM322.9 230.1L328.2 224.8L333.5 230.1L328.2 235.4ZM334.5 229.4L339.8 224.1L345.1 229.4L339.8 234.7ZM328.6 242.3L333.9 237.0L339.2 242.3L333.9 247.6ZM322.9 245.3L328.2 240.0L333.5 245.3L328.2 250.6ZM334.5 245.0L339.8 239.7L345.1 245.0L339.8 250.3ZM334.5 247.7L339.8 242.4L345.1 247.7L339.8 253.0ZM322.9 256.3L328.2 251.0L333.5 256.3L328.2 261.6ZM340.2 264.5L345.5 259.2L350.8 264.5L345.5 269.8ZM317.1 267.9L322.4 262.6L327.7 267.9L322.4 273.2ZM328.6 268.6L333.9 263.3L339.2 268.6L333.9 273.9ZM317.1 272.0L322.4 266.7L327.7 272.0L322.4 277.3ZM323.2 272.0L328.5 266.7L333.8 272.0L328.5 277.3ZM334.0 272.0L339.3 266.7L344.6 272.0L339.3 277.3ZM340.2 278.0L345.5 272.7L350.8 278.0L345.5 283.3ZM328.6 281.5L333.9 276.2L339.2 281.5L333.9 286.8ZM322.9 284.2L328.2 278.9L333.5 284.2L328.2 289.5ZM334.7 289.6L340.0 284.3L345.3 289.6L340.0 294.9ZM322.9 291.6L328.2 286.3L333.5 291.6L328.2 296.9ZM334.7 294.3L340.0 289.0L345.3 294.3L340.0 299.6ZM324.9 297.0L330.2 291.7L335.5 297.0L330.2 302.3ZM328.6 301.8L333.9 296.5L339.2 301.8L333.9 307.1ZM317.1 306.4L322.4 301.1L327.7 306.4L322.4 311.7ZM322.9 306.4L328.2 301.1L333.5 306.4L328.2 311.7ZM328.6 306.4L333.9 301.1L339.2 306.4L333.9 311.7ZM334.4 306.4L339.7 301.1L345.0 306.4L339.7 311.7ZM340.2 306.4L345.5 301.1L350.8 306.4L345.5 311.7ZM317.0 324.2L322.3 318.9L327.6 324.2L322.3 329.5ZM323.0 322.0L328.3 316.7L333.6 322.0L328.3 327.3ZM328.2 323.2L333.5 317.9L338.8 323.2L333.5 328.5ZM331.7 322.0L337.0 316.7L342.3 322.0L337.0 327.3ZM336.2 323.5L341.5 318.2L346.8 323.5L341.5 328.8ZM341.1 323.8L346.4 318.5L351.7 323.8L346.4 329.1ZM317.0 328.2L322.3 322.9L327.6 328.2L322.3 333.5ZM322.9 327.5L328.2 322.2L333.5 327.5L328.2 332.8ZM328.6 326.5L333.9 321.2L339.2 326.5L333.9 331.8ZM334.4 327.5L339.7 322.2L345.0 327.5L339.7 332.8ZM338.7 328.0L344.0 322.7L349.3 328.0L344.0 333.3ZM341.1 331.8L346.4 326.5L351.7 331.8L346.4 337.1ZM336.2 330.0L341.5 324.7L346.8 330.0L341.5 335.3ZM328.3 338.0L333.6 332.7L338.9 338.0L333.6 343.3ZM328.3 340.5L333.6 335.2L338.9 340.5L333.6 345.8ZM328.3 343.0L333.6 337.7L338.9 343.0L333.6 348.3ZM328.3 345.5L333.6 340.2L338.9 345.5L333.6 350.8ZM328.3 348.0L333.6 342.7L338.9 348.0L333.6 353.3ZM317.0 340.5L322.3 335.2L327.6 340.5L322.3 345.8ZM317.0 343.0L322.3 337.7L327.6 343.0L322.3 348.3ZM317.0 345.5L322.3 340.2L327.6 345.5L322.3 350.8ZM317.0 348.0L322.3 342.7L327.6 348.0L322.3 353.3ZM341.0 342.3L346.3 337.0L351.6 342.3L346.3 347.6ZM341.0 344.8L346.3 339.5L351.6 344.8L346.3 350.1ZM341.0 347.3L346.3 342.0L351.6 347.3L346.3 352.6ZM341.0 349.8L346.3 344.5L351.6 349.8L346.3 355.1ZM316.3 350.5L321.6 345.2L326.9 350.5L321.6 355.8ZM322.8 350.5L328.1 345.2L333.4 350.5L328.1 355.8ZM328.6 350.5L333.9 345.2L339.2 350.5L333.9 355.8ZM334.4 350.5L339.7 345.2L345.0 350.5L339.7 355.8ZM340.9 350.5L346.2 345.2L351.5 350.5L346.2 355.8ZM316.3 353.0L321.6 347.7L326.9 353.0L321.6 358.3ZM322.8 353.0L328.1 347.7L333.4 353.0L328.1 358.3ZM328.6 353.0L333.9 347.7L339.2 353.0L333.9 358.3ZM334.4 353.0L339.7 347.7L345.0 353.0L339.7 358.3ZM340.9 353.0L346.2 347.7L351.5 353.0L346.2 358.3ZM316.3 355.5L321.6 350.2L326.9 355.5L321.6 360.8ZM322.8 355.5L328.1 350.2L333.4 355.5L328.1 360.8ZM328.6 355.5L333.9 350.2L339.2 355.5L333.9 360.8ZM334.4 355.5L339.7 350.2L345.0 355.5L339.7 360.8ZM340.9 355.5L346.2 350.2L351.5 355.5L346.2 360.8ZM316.3 358.0L321.6 352.7L326.9 358.0L321.6 363.3ZM322.8 358.0L328.1 352.7L333.4 358.0L328.1 363.3ZM328.6 358.0L333.9 352.7L339.2 358.0L333.9 363.3ZM334.4 358.0L339.7 352.7L345.0 358.0L339.7 363.3ZM340.9 358.0L346.2 352.7L351.5 358.0L346.2 363.3ZM316.3 360.5L321.6 355.2L326.9 360.5L321.6 365.8ZM322.8 360.5L328.1 355.2L333.4 360.5L328.1 365.8ZM328.6 360.5L333.9 355.2L339.2 360.5L333.9 365.8ZM334.4 360.5L339.7 355.2L345.0 360.5L339.7 365.8ZM340.9 360.5L346.2 355.2L351.5 360.5L346.2 365.8ZM316.3 363.0L321.6 357.7L326.9 363.0L321.6 368.3ZM322.8 363.0L328.1 357.7L333.4 363.0L328.1 368.3ZM328.6 363.0L333.9 357.7L339.2 363.0L333.9 368.3ZM334.4 363.0L339.7 357.7L345.0 363.0L339.7 368.3ZM340.9 363.0L346.2 357.7L351.5 363.0L346.2 368.3ZM316.3 365.5L321.6 360.2L326.9 365.5L321.6 370.8ZM322.8 365.5L328.1 360.2L333.4 365.5L328.1 370.8ZM328.6 365.5L333.9 360.2L339.2 365.5L333.9 370.8ZM334.4 365.5L339.7 360.2L345.0 365.5L339.7 370.8ZM340.9 365.5L346.2 360.2L351.5 365.5L346.2 370.8ZM316.3 368.0L321.6 362.7L326.9 368.0L321.6 373.3ZM322.8 368.0L328.1 362.7L333.4 368.0L328.1 373.3ZM328.6 368.0L333.9 362.7L339.2 368.0L333.9 373.3ZM334.4 368.0L339.7 362.7L345.0 368.0L339.7 373.3ZM340.9 368.0L346.2 362.7L351.5 368.0L346.2 373.3ZM316.3 370.5L321.6 365.2L326.9 370.5L321.6 375.8ZM322.8 370.5L328.1 365.2L333.4 370.5L328.1 375.8ZM328.6 370.5L333.9 365.2L339.2 370.5L333.9 375.8ZM334.4 370.5L339.7 365.2L345.0 370.5L339.7 375.8ZM340.9 370.5L346.2 365.2L351.5 370.5L346.2 375.8ZM316.3 373.0L321.6 367.7L326.9 373.0L321.6 378.3ZM322.8 373.0L328.1 367.7L333.4 373.0L328.1 378.3ZM328.6 373.0L333.9 367.7L339.2 373.0L333.9 378.3ZM334.4 373.0L339.7 367.7L345.0 373.0L339.7 378.3ZM340.9 373.0L346.2 367.7L351.5 373.0L346.2 378.3ZM316.3 375.5L321.6 370.2L326.9 375.5L321.6 380.8ZM322.8 375.5L328.1 370.2L333.4 375.5L328.1 380.8ZM328.6 375.5L333.9 370.2L339.2 375.5L333.9 380.8ZM334.4 375.5L339.7 370.2L345.0 375.5L339.7 380.8ZM340.9 375.5L346.2 370.2L351.5 375.5L346.2 380.8ZM316.3 378.0L321.6 372.7L326.9 378.0L321.6 383.3ZM322.8 378.0L328.1 372.7L333.4 378.0L328.1 383.3ZM328.6 378.0L333.9 372.7L339.2 378.0L333.9 383.3ZM334.4 378.0L339.7 372.7L345.0 378.0L339.7 383.3ZM340.9 378.0L346.2 372.7L351.5 378.0L346.2 383.3ZM316.3 380.5L321.6 375.2L326.9 380.5L321.6 385.8ZM322.8 380.5L328.1 375.2L333.4 380.5L328.1 385.8ZM328.6 380.5L333.9 375.2L339.2 380.5L333.9 385.8ZM334.4 380.5L339.7 375.2L345.0 380.5L339.7 385.8ZM340.9 380.5L346.2 375.2L351.5 380.5L346.2 385.8ZM316.3 383.0L321.6 377.7L326.9 383.0L321.6 388.3ZM322.8 383.0L328.1 377.7L333.4 383.0L328.1 388.3ZM328.6 383.0L333.9 377.7L339.2 383.0L333.9 388.3ZM334.4 383.0L339.7 377.7L345.0 383.0L339.7 388.3ZM340.9 383.0L346.2 377.7L351.5 383.0L346.2 388.3ZM320.9 378H346.9V388.3H320.9ZM321.6 352H346.2V384H321.6ZM375.6 160.6L380.9 155.3L386.2 160.6L380.9 165.9ZM369.8 167.6L375.1 162.3L380.4 167.6L375.1 172.9ZM387.0 164.2L392.3 158.9L397.6 164.2L392.3 169.5ZM381.3 169.7L386.6 164.4L391.9 169.7L386.6 175.0ZM392.9 167.6L398.2 162.3L403.5 167.6L398.2 172.9ZM369.8 182.6L375.1 177.3L380.4 182.6L375.1 187.9ZM381.3 184.6L386.6 179.3L391.9 184.6L386.6 189.9ZM392.9 181.5L398.2 176.2L403.5 181.5L398.2 186.8ZM375.6 201.0L380.9 195.7L386.2 201.0L380.9 206.3ZM387.4 201.0L392.7 195.7L398.0 201.0L392.7 206.3ZM375.6 206.5L380.9 201.2L386.2 206.5L380.9 211.8ZM381.3 206.5L386.6 201.2L391.9 206.5L386.6 211.8ZM390.8 208.6L396.1 203.3L401.4 208.6L396.1 213.9ZM392.9 211.3L398.2 206.0L403.5 211.3L398.2 216.6ZM369.8 214.0L375.1 208.7L380.4 214.0L375.1 219.3ZM369.8 218.0L375.1 212.7L380.4 218.0L375.1 223.3ZM375.7 214.7L381.0 209.4L386.3 214.7L381.0 220.0ZM382.7 215.4L388.0 210.1L393.3 215.4L388.0 220.7ZM388.1 218.0L393.4 212.7L398.7 218.0L393.4 223.3ZM392.9 221.5L398.2 216.2L403.5 221.5L398.2 226.8ZM381.3 227.3L386.6 222.0L391.9 227.3L386.6 232.6ZM375.6 241.5L380.9 236.2L386.2 241.5L380.9 246.8ZM387.4 243.0L392.7 237.7L398.0 243.0L392.7 248.3ZM387.4 247.4L392.7 242.1L398.0 247.4L392.7 252.7ZM387.4 251.8L392.7 246.5L398.0 251.8L392.7 257.1ZM375.7 252.7L381.0 247.4L386.3 252.7L381.0 258.0ZM369.8 265.1L375.1 259.8L380.4 265.1L375.1 270.4ZM377.3 261.7L382.6 256.4L387.9 261.7L382.6 267.0ZM384.0 260.4L389.3 255.1L394.6 260.4L389.3 265.7ZM381.3 265.8L386.6 260.5L391.9 265.8L386.6 271.1ZM392.9 264.4L398.2 259.1L403.5 264.4L398.2 269.7ZM375.7 272.0L381.0 266.7L386.3 272.0L381.0 277.3ZM387.4 270.0L392.7 264.7L398.0 270.0L392.7 275.3ZM375.7 276.6L381.0 271.3L386.3 276.6L381.0 281.9ZM387.4 276.0L392.7 270.7L398.0 276.0L392.7 281.3ZM381.3 287.0L386.6 281.7L391.9 287.0L386.6 292.3ZM369.8 295.3L375.1 290.0L380.4 295.3L375.1 300.6ZM375.7 295.3L381.0 290.0L386.3 295.3L381.0 300.6ZM381.3 295.3L386.6 290.0L391.9 295.3L386.6 300.6ZM387.4 295.3L392.7 290.0L398.0 295.3L392.7 300.6ZM392.9 295.3L398.2 290.0L403.5 295.3L398.2 300.6ZM378.6 300.0L383.9 294.7L389.2 300.0L383.9 305.3ZM384.0 302.0L389.3 296.7L394.6 302.0L389.3 307.3ZM374.6 305.4L379.9 300.1L385.2 305.4L379.9 310.7ZM369.8 310.0L375.1 304.7L380.4 310.0L375.1 315.3ZM367.7 316.2L373.0 310.9L378.3 316.2L373.0 321.5ZM386.7 310.0L392.0 304.7L397.3 310.0L392.0 315.3ZM392.9 311.5L398.2 306.2L403.5 311.5L398.2 316.8ZM392.9 317.6L398.2 312.3L403.5 317.6L398.2 322.9ZM381.3 315.5L386.6 310.2L391.9 315.5L386.6 320.8ZM375.9 321.6L381.2 316.3L386.5 321.6L381.2 326.9ZM386.7 323.0L392.0 317.7L397.3 323.0L392.0 328.3ZM368.4 327.7L373.7 322.4L379.0 327.7L373.7 333.0ZM381.3 327.0L386.6 321.7L391.9 327.0L386.6 332.3ZM393.2 328.0L398.5 322.7L403.8 328.0L398.5 333.3ZM381.3 335.0L386.6 329.7L391.9 335.0L386.6 340.3ZM381.3 337.5L386.6 332.2L391.9 337.5L386.6 342.8ZM381.3 340.0L386.6 334.7L391.9 340.0L386.6 345.3ZM381.3 342.5L386.6 337.2L391.9 342.5L386.6 347.8ZM381.3 345.0L386.6 339.7L391.9 345.0L386.6 350.3ZM381.3 347.5L386.6 342.2L391.9 347.5L386.6 352.8ZM381.3 350.0L386.6 344.7L391.9 350.0L386.6 355.3ZM381.3 352.5L386.6 347.2L391.9 352.5L386.6 357.8ZM381.3 355.0L386.6 349.7L391.9 355.0L386.6 360.3ZM381.3 357.5L386.6 352.2L391.9 357.5L386.6 362.8ZM381.3 360.0L386.6 354.7L391.9 360.0L386.6 365.3ZM381.3 362.5L386.6 357.2L391.9 362.5L386.6 367.8ZM381.3 365.0L386.6 359.7L391.9 365.0L386.6 370.3ZM381.3 367.5L386.6 362.2L391.9 367.5L386.6 372.8ZM381.3 370.0L386.6 364.7L391.9 370.0L386.6 375.3ZM381.3 372.5L386.6 367.2L391.9 372.5L386.6 377.8ZM381.3 375.0L386.6 369.7L391.9 375.0L386.6 380.3ZM381.3 377.5L386.6 372.2L391.9 377.5L386.6 382.8ZM381.3 380.0L386.6 374.7L391.9 380.0L386.6 385.3ZM381.3 382.5L386.6 377.2L391.9 382.5L386.6 387.8ZM375.5 336.5L380.8 331.2L386.1 336.5L380.8 341.8ZM387.1 336.5L392.4 331.2L397.7 336.5L392.4 341.8ZM375.5 339.0L380.8 333.7L386.1 339.0L380.8 344.3ZM387.1 339.0L392.4 333.7L397.7 339.0L392.4 344.3ZM375.5 341.5L380.8 336.2L386.1 341.5L380.8 346.8ZM387.1 341.5L392.4 336.2L397.7 341.5L392.4 346.8ZM375.5 344.0L380.8 338.7L386.1 344.0L380.8 349.3ZM387.1 344.0L392.4 338.7L397.7 344.0L392.4 349.3ZM375.5 346.5L380.8 341.2L386.1 346.5L380.8 351.8ZM387.1 346.5L392.4 341.2L397.7 346.5L392.4 351.8ZM375.5 349.0L380.8 343.7L386.1 349.0L380.8 354.3ZM387.1 349.0L392.4 343.7L397.7 349.0L392.4 354.3ZM375.5 351.5L380.8 346.2L386.1 351.5L380.8 356.8ZM387.1 351.5L392.4 346.2L397.7 351.5L392.4 356.8ZM375.5 354.0L380.8 348.7L386.1 354.0L380.8 359.3ZM387.1 354.0L392.4 348.7L397.7 354.0L392.4 359.3ZM375.5 356.5L380.8 351.2L386.1 356.5L380.8 361.8ZM387.1 356.5L392.4 351.2L397.7 356.5L392.4 361.8ZM375.5 359.0L380.8 353.7L386.1 359.0L380.8 364.3ZM387.1 359.0L392.4 353.7L397.7 359.0L392.4 364.3ZM375.5 361.5L380.8 356.2L386.1 361.5L380.8 366.8ZM387.1 361.5L392.4 356.2L397.7 361.5L392.4 366.8ZM375.5 364.0L380.8 358.7L386.1 364.0L380.8 369.3ZM387.1 364.0L392.4 358.7L397.7 364.0L392.4 369.3ZM375.5 366.5L380.8 361.2L386.1 366.5L380.8 371.8ZM387.1 366.5L392.4 361.2L397.7 366.5L392.4 371.8ZM375.5 369.0L380.8 363.7L386.1 369.0L380.8 374.3ZM387.1 369.0L392.4 363.7L397.7 369.0L392.4 374.3ZM375.5 371.5L380.8 366.2L386.1 371.5L380.8 376.8ZM387.1 371.5L392.4 366.2L397.7 371.5L392.4 376.8ZM375.5 374.0L380.8 368.7L386.1 374.0L380.8 379.3ZM387.1 374.0L392.4 368.7L397.7 374.0L392.4 379.3ZM375.5 376.5L380.8 371.2L386.1 376.5L380.8 381.8ZM387.1 376.5L392.4 371.2L397.7 376.5L392.4 381.8ZM375.5 379.0L380.8 373.7L386.1 379.0L380.8 384.3ZM387.1 379.0L392.4 373.7L397.7 379.0L392.4 384.3ZM375.5 381.5L380.8 376.2L386.1 381.5L380.8 386.8ZM387.1 381.5L392.4 376.2L397.7 381.5L392.4 386.8ZM369.3 338.5L374.6 333.2L379.9 338.5L374.6 343.8ZM393.3 338.5L398.6 333.2L403.9 338.5L398.6 343.8ZM369.3 341.0L374.6 335.7L379.9 341.0L374.6 346.3ZM393.3 341.0L398.6 335.7L403.9 341.0L398.6 346.3ZM369.3 343.5L374.6 338.2L379.9 343.5L374.6 348.8ZM393.3 343.5L398.6 338.2L403.9 343.5L398.6 348.8ZM369.3 346.0L374.6 340.7L379.9 346.0L374.6 351.3ZM393.3 346.0L398.6 340.7L403.9 346.0L398.6 351.3ZM369.3 348.5L374.6 343.2L379.9 348.5L374.6 353.8ZM393.3 348.5L398.6 343.2L403.9 348.5L398.6 353.8ZM369.3 351.0L374.6 345.7L379.9 351.0L374.6 356.3ZM393.3 351.0L398.6 345.7L403.9 351.0L398.6 356.3ZM369.3 353.5L374.6 348.2L379.9 353.5L374.6 358.8ZM393.3 353.5L398.6 348.2L403.9 353.5L398.6 358.8ZM369.3 356.0L374.6 350.7L379.9 356.0L374.6 361.3ZM393.3 356.0L398.6 350.7L403.9 356.0L398.6 361.3ZM369.3 358.5L374.6 353.2L379.9 358.5L374.6 363.8ZM393.3 358.5L398.6 353.2L403.9 358.5L398.6 363.8ZM369.3 361.0L374.6 355.7L379.9 361.0L374.6 366.3ZM393.3 361.0L398.6 355.7L403.9 361.0L398.6 366.3ZM369.3 363.5L374.6 358.2L379.9 363.5L374.6 368.8ZM393.3 363.5L398.6 358.2L403.9 363.5L398.6 368.8ZM369.3 366.0L374.6 360.7L379.9 366.0L374.6 371.3ZM393.3 366.0L398.6 360.7L403.9 366.0L398.6 371.3ZM369.3 368.5L374.6 363.2L379.9 368.5L374.6 373.8ZM393.3 368.5L398.6 363.2L403.9 368.5L398.6 373.8ZM369.3 371.0L374.6 365.7L379.9 371.0L374.6 376.3ZM393.3 371.0L398.6 365.7L403.9 371.0L398.6 376.3ZM369.3 373.5L374.6 368.2L379.9 373.5L374.6 378.8ZM393.3 373.5L398.6 368.2L403.9 373.5L398.6 378.8ZM369.3 376.0L374.6 370.7L379.9 376.0L374.6 381.3ZM393.3 376.0L398.6 370.7L403.9 376.0L398.6 381.3ZM369.3 378.5L374.6 373.2L379.9 378.5L374.6 383.8ZM393.3 378.5L398.6 373.2L403.9 378.5L398.6 383.8ZM369.3 381.0L374.6 375.7L379.9 381.0L374.6 386.3ZM393.3 381.0L398.6 375.7L403.9 381.0L398.6 386.3ZM369.3 383.5L374.6 378.2L379.9 383.5L374.6 388.8ZM393.3 383.5L398.6 378.2L403.9 383.5L398.6 388.8ZM373.6 378H399.6V388.3H373.6ZM374.6 341H398.6V384H374.6ZM422.5 162.9L427.8 157.6L433.1 162.9L427.8 168.2ZM421.2 167.6L426.5 162.3L431.8 167.6L426.5 172.9ZM434.0 162.9L439.3 157.6L444.6 162.9L439.3 168.2ZM445.6 162.9L450.9 157.6L456.2 162.9L450.9 168.2ZM447.6 167.6L452.9 162.3L458.2 167.6L452.9 172.9ZM431.3 168.3L436.6 163.0L441.9 168.3L436.6 173.6ZM436.7 170.4L442.0 165.1L447.3 170.4L442.0 175.7ZM427.9 174.4L433.2 169.1L438.5 174.4L433.2 179.7ZM440.2 174.4L445.5 169.1L450.8 174.4L445.5 179.7ZM427.9 178.5L433.2 173.2L438.5 178.5L433.2 183.8ZM440.2 179.2L445.5 173.9L450.8 179.2L445.5 184.5ZM440.2 183.2L445.5 177.9L450.8 183.2L445.5 188.5ZM427.9 190.0L433.2 184.7L438.5 190.0L433.2 195.3ZM427.9 194.8L433.2 189.5L438.5 194.8L433.2 200.1ZM427.9 198.0L433.2 192.7L438.5 198.0L433.2 203.3ZM427.9 202.3L433.2 197.0L438.5 202.3L433.2 207.6ZM440.2 190.0L445.5 184.7L450.8 190.0L445.5 195.3ZM440.2 196.8L445.5 191.5L450.8 196.8L445.5 202.1ZM440.2 198.0L445.5 192.7L450.8 198.0L445.5 203.3ZM436.7 206.3L442.0 201.0L447.3 206.3L442.0 211.6ZM434.0 208.6L439.3 203.3L444.6 208.6L439.3 213.9ZM422.2 212.0L427.5 206.7L432.8 212.0L427.5 217.3ZM447.2 211.3L452.5 206.0L457.8 211.3L452.5 216.6ZM427.9 214.0L433.2 208.7L438.5 214.0L433.2 219.3ZM440.2 214.0L445.5 208.7L450.8 214.0L445.5 219.3ZM434.0 214.0L439.3 208.7L444.6 214.0L439.3 219.3ZM434.0 220.0L439.3 214.7L444.6 220.0L439.3 225.3ZM422.2 220.8L427.5 215.5L432.8 220.8L427.5 226.1ZM447.2 220.8L452.5 215.5L457.8 220.8L452.5 226.1ZM427.9 220.0L433.2 214.7L438.5 220.0L433.2 225.3ZM440.2 220.0L445.5 214.7L450.8 220.0L445.5 225.3ZM427.9 226.0L433.2 220.7L438.5 226.0L433.2 231.3ZM440.2 226.0L445.5 220.7L450.8 226.0L445.5 231.3ZM434.0 217.0L439.3 211.7L444.6 217.0L439.3 222.3ZM430.9 217.0L436.2 211.7L441.5 217.0L436.2 222.3ZM437.1 217.0L442.4 211.7L447.7 217.0L442.4 222.3ZM434.0 224.0L439.3 218.7L444.6 224.0L439.3 229.3ZM434.0 211.0L439.3 205.7L444.6 211.0L439.3 216.3ZM430.9 223.0L436.2 217.7L441.5 223.0L436.2 228.3ZM437.1 223.0L442.4 217.7L447.7 223.0L442.4 228.3ZM430.9 211.5L436.2 206.2L441.5 211.5L436.2 216.8ZM437.1 211.5L442.4 206.2L447.7 211.5L442.4 216.8ZM427.9 230.0L433.2 224.7L438.5 230.0L433.2 235.3ZM440.2 230.0L445.5 224.7L450.8 230.0L445.5 235.3ZM422.5 234.3L427.8 229.0L433.1 234.3L427.8 239.6ZM445.6 235.7L450.9 230.4L456.2 235.7L450.9 241.0ZM434.0 241.1L439.3 235.8L444.6 241.1L439.3 246.4ZM422.2 247.9L427.5 242.6L432.8 247.9L427.5 253.2ZM447.2 247.3L452.5 242.0L457.8 247.3L452.5 252.6ZM434.0 247.0L439.3 241.7L444.6 247.0L439.3 252.3ZM427.9 251.0L433.2 245.7L438.5 251.0L433.2 256.3ZM440.2 251.0L445.5 245.7L450.8 251.0L445.5 256.3ZM434.0 253.0L439.3 247.7L444.6 253.0L439.3 258.3ZM422.5 255.0L427.8 249.7L433.1 255.0L427.8 260.3ZM446.3 253.6L451.6 248.3L456.9 253.6L451.6 258.9ZM427.9 256.0L433.2 250.7L438.5 256.0L433.2 261.3ZM440.2 256.0L445.5 250.7L450.8 256.0L445.5 261.3ZM434.0 258.0L439.3 252.7L444.6 258.0L439.3 263.3ZM427.9 263.0L433.2 257.7L438.5 263.0L433.2 268.3ZM440.2 263.0L445.5 257.7L450.8 263.0L445.5 268.3ZM427.9 267.0L433.2 261.7L438.5 267.0L433.2 272.3ZM438.1 267.0L443.4 261.7L448.7 267.0L443.4 272.3ZM440.2 270.0L445.5 264.7L450.8 270.0L445.5 275.3ZM434.0 271.0L439.3 265.7L444.6 271.0L439.3 276.3ZM432.2 274.5L437.5 269.2L442.8 274.5L437.5 279.8ZM427.9 277.3L433.2 272.0L438.5 277.3L433.2 282.6ZM440.2 279.3L445.5 274.0L450.8 279.3L445.5 284.6ZM434.0 282.0L439.3 276.7L444.6 282.0L439.3 287.3ZM427.9 286.0L433.2 280.7L438.5 286.0L433.2 291.3ZM440.2 285.0L445.5 279.7L450.8 285.0L445.5 290.3ZM427.9 290.2L433.2 284.9L438.5 290.2L433.2 295.5ZM440.2 288.8L445.5 283.5L450.8 288.8L445.5 294.1ZM434.0 290.0L439.3 284.7L444.6 290.0L439.3 295.3ZM421.2 304.0L426.5 298.7L431.8 304.0L426.5 309.3ZM447.2 304.0L452.5 298.7L457.8 304.0L452.5 309.3ZM421.2 319.0L426.5 313.7L431.8 319.0L426.5 324.3ZM447.2 319.0L452.5 313.7L457.8 319.0L452.5 324.3ZM428.7 290.0L434.0 284.7L439.3 290.0L434.0 295.3ZM434.0 290.0L439.3 284.7L444.6 290.0L439.3 295.3ZM439.3 290.0L444.6 284.7L449.9 290.0L444.6 295.3ZM428.7 292.5L434.0 287.2L439.3 292.5L434.0 297.8ZM434.0 292.5L439.3 287.2L444.6 292.5L439.3 297.8ZM439.3 292.5L444.6 287.2L449.9 292.5L444.6 297.8ZM428.7 295.0L434.0 289.7L439.3 295.0L434.0 300.3ZM434.0 295.0L439.3 289.7L444.6 295.0L439.3 300.3ZM439.3 295.0L444.6 289.7L449.9 295.0L444.6 300.3ZM428.7 297.5L434.0 292.2L439.3 297.5L434.0 302.8ZM434.0 297.5L439.3 292.2L444.6 297.5L439.3 302.8ZM439.3 297.5L444.6 292.2L449.9 297.5L444.6 302.8ZM428.7 300.0L434.0 294.7L439.3 300.0L434.0 305.3ZM434.0 300.0L439.3 294.7L444.6 300.0L439.3 305.3ZM439.3 300.0L444.6 294.7L449.9 300.0L444.6 305.3ZM428.7 302.5L434.0 297.2L439.3 302.5L434.0 307.8ZM434.0 302.5L439.3 297.2L444.6 302.5L439.3 307.8ZM439.3 302.5L444.6 297.2L449.9 302.5L444.6 307.8ZM428.7 305.0L434.0 299.7L439.3 305.0L434.0 310.3ZM434.0 305.0L439.3 299.7L444.6 305.0L439.3 310.3ZM439.3 305.0L444.6 299.7L449.9 305.0L444.6 310.3ZM428.7 307.5L434.0 302.2L439.3 307.5L434.0 312.8ZM434.0 307.5L439.3 302.2L444.6 307.5L439.3 312.8ZM439.3 307.5L444.6 302.2L449.9 307.5L444.6 312.8ZM428.7 310.0L434.0 304.7L439.3 310.0L434.0 315.3ZM434.0 310.0L439.3 304.7L444.6 310.0L439.3 315.3ZM439.3 310.0L444.6 304.7L449.9 310.0L444.6 315.3ZM428.7 312.5L434.0 307.2L439.3 312.5L434.0 317.8ZM434.0 312.5L439.3 307.2L444.6 312.5L439.3 317.8ZM439.3 312.5L444.6 307.2L449.9 312.5L444.6 317.8ZM428.7 315.0L434.0 309.7L439.3 315.0L434.0 320.3ZM434.0 315.0L439.3 309.7L444.6 315.0L439.3 320.3ZM439.3 315.0L444.6 309.7L449.9 315.0L444.6 320.3ZM428.7 317.5L434.0 312.2L439.3 317.5L434.0 322.8ZM434.0 317.5L439.3 312.2L444.6 317.5L439.3 322.8ZM439.3 317.5L444.6 312.2L449.9 317.5L444.6 322.8ZM428.7 320.0L434.0 314.7L439.3 320.0L434.0 325.3ZM434.0 320.0L439.3 314.7L444.6 320.0L439.3 325.3ZM439.3 320.0L444.6 314.7L449.9 320.0L444.6 325.3ZM428.7 322.5L434.0 317.2L439.3 322.5L434.0 327.8ZM434.0 322.5L439.3 317.2L444.6 322.5L439.3 327.8ZM439.3 322.5L444.6 317.2L449.9 322.5L444.6 327.8ZM428.7 325.0L434.0 319.7L439.3 325.0L434.0 330.3ZM434.0 325.0L439.3 319.7L444.6 325.0L439.3 330.3ZM439.3 325.0L444.6 319.7L449.9 325.0L444.6 330.3ZM422.3 326.0L427.6 320.7L432.9 326.0L427.6 331.3ZM428.2 326.0L433.5 320.7L438.8 326.0L433.5 331.3ZM434.0 326.0L439.3 320.7L444.6 326.0L439.3 331.3ZM439.8 326.0L445.1 320.7L450.4 326.0L445.1 331.3ZM445.7 326.0L451.0 320.7L456.3 326.0L451.0 331.3ZM422.3 328.5L427.6 323.2L432.9 328.5L427.6 333.8ZM428.2 328.5L433.5 323.2L438.8 328.5L433.5 333.8ZM434.0 328.5L439.3 323.2L444.6 328.5L439.3 333.8ZM439.8 328.5L445.1 323.2L450.4 328.5L445.1 333.8ZM445.7 328.5L451.0 323.2L456.3 328.5L451.0 333.8ZM422.3 331.0L427.6 325.7L432.9 331.0L427.6 336.3ZM428.2 331.0L433.5 325.7L438.8 331.0L433.5 336.3ZM434.0 331.0L439.3 325.7L444.6 331.0L439.3 336.3ZM439.8 331.0L445.1 325.7L450.4 331.0L445.1 336.3ZM445.7 331.0L451.0 325.7L456.3 331.0L451.0 336.3ZM422.3 333.5L427.6 328.2L432.9 333.5L427.6 338.8ZM428.2 333.5L433.5 328.2L438.8 333.5L433.5 338.8ZM434.0 333.5L439.3 328.2L444.6 333.5L439.3 338.8ZM439.8 333.5L445.1 328.2L450.4 333.5L445.1 338.8ZM445.7 333.5L451.0 328.2L456.3 333.5L451.0 338.8ZM422.3 336.0L427.6 330.7L432.9 336.0L427.6 341.3ZM428.2 336.0L433.5 330.7L438.8 336.0L433.5 341.3ZM434.0 336.0L439.3 330.7L444.6 336.0L439.3 341.3ZM439.8 336.0L445.1 330.7L450.4 336.0L445.1 341.3ZM445.7 336.0L451.0 330.7L456.3 336.0L451.0 341.3ZM422.3 338.5L427.6 333.2L432.9 338.5L427.6 343.8ZM428.2 338.5L433.5 333.2L438.8 338.5L433.5 343.8ZM434.0 338.5L439.3 333.2L444.6 338.5L439.3 343.8ZM439.8 338.5L445.1 333.2L450.4 338.5L445.1 343.8ZM445.7 338.5L451.0 333.2L456.3 338.5L451.0 343.8ZM422.3 341.0L427.6 335.7L432.9 341.0L427.6 346.3ZM428.2 341.0L433.5 335.7L438.8 341.0L433.5 346.3ZM434.0 341.0L439.3 335.7L444.6 341.0L439.3 346.3ZM439.8 341.0L445.1 335.7L450.4 341.0L445.1 346.3ZM445.7 341.0L451.0 335.7L456.3 341.0L451.0 346.3ZM422.3 343.5L427.6 338.2L432.9 343.5L427.6 348.8ZM428.2 343.5L433.5 338.2L438.8 343.5L433.5 348.8ZM434.0 343.5L439.3 338.2L444.6 343.5L439.3 348.8ZM439.8 343.5L445.1 338.2L450.4 343.5L445.1 348.8ZM445.7 343.5L451.0 338.2L456.3 343.5L451.0 348.8ZM422.3 346.0L427.6 340.7L432.9 346.0L427.6 351.3ZM428.2 346.0L433.5 340.7L438.8 346.0L433.5 351.3ZM434.0 346.0L439.3 340.7L444.6 346.0L439.3 351.3ZM439.8 346.0L445.1 340.7L450.4 346.0L445.1 351.3ZM445.7 346.0L451.0 340.7L456.3 346.0L451.0 351.3ZM422.3 348.5L427.6 343.2L432.9 348.5L427.6 353.8ZM428.2 348.5L433.5 343.2L438.8 348.5L433.5 353.8ZM434.0 348.5L439.3 343.2L444.6 348.5L439.3 353.8ZM439.8 348.5L445.1 343.2L450.4 348.5L445.1 353.8ZM445.7 348.5L451.0 343.2L456.3 348.5L451.0 353.8ZM422.3 351.0L427.6 345.7L432.9 351.0L427.6 356.3ZM428.2 351.0L433.5 345.7L438.8 351.0L433.5 356.3ZM434.0 351.0L439.3 345.7L444.6 351.0L439.3 356.3ZM439.8 351.0L445.1 345.7L450.4 351.0L445.1 356.3ZM445.7 351.0L451.0 345.7L456.3 351.0L451.0 356.3ZM422.3 353.5L427.6 348.2L432.9 353.5L427.6 358.8ZM428.2 353.5L433.5 348.2L438.8 353.5L433.5 358.8ZM434.0 353.5L439.3 348.2L444.6 353.5L439.3 358.8ZM439.8 353.5L445.1 348.2L450.4 353.5L445.1 358.8ZM445.7 353.5L451.0 348.2L456.3 353.5L451.0 358.8ZM422.3 356.0L427.6 350.7L432.9 356.0L427.6 361.3ZM428.2 356.0L433.5 350.7L438.8 356.0L433.5 361.3ZM434.0 356.0L439.3 350.7L444.6 356.0L439.3 361.3ZM439.8 356.0L445.1 350.7L450.4 356.0L445.1 361.3ZM445.7 356.0L451.0 350.7L456.3 356.0L451.0 361.3ZM422.3 358.5L427.6 353.2L432.9 358.5L427.6 363.8ZM428.2 358.5L433.5 353.2L438.8 358.5L433.5 363.8ZM434.0 358.5L439.3 353.2L444.6 358.5L439.3 363.8ZM439.8 358.5L445.1 353.2L450.4 358.5L445.1 363.8ZM445.7 358.5L451.0 353.2L456.3 358.5L451.0 363.8ZM422.3 361.0L427.6 355.7L432.9 361.0L427.6 366.3ZM428.2 361.0L433.5 355.7L438.8 361.0L433.5 366.3ZM434.0 361.0L439.3 355.7L444.6 361.0L439.3 366.3ZM439.8 361.0L445.1 355.7L450.4 361.0L445.1 366.3ZM445.7 361.0L451.0 355.7L456.3 361.0L451.0 366.3ZM422.3 363.5L427.6 358.2L432.9 363.5L427.6 368.8ZM428.2 363.5L433.5 358.2L438.8 363.5L433.5 368.8ZM434.0 363.5L439.3 358.2L444.6 363.5L439.3 368.8ZM439.8 363.5L445.1 358.2L450.4 363.5L445.1 368.8ZM445.7 363.5L451.0 358.2L456.3 363.5L451.0 368.8ZM422.3 366.0L427.6 360.7L432.9 366.0L427.6 371.3ZM428.2 366.0L433.5 360.7L438.8 366.0L433.5 371.3ZM434.0 366.0L439.3 360.7L444.6 366.0L439.3 371.3ZM439.8 366.0L445.1 360.7L450.4 366.0L445.1 371.3ZM445.7 366.0L451.0 360.7L456.3 366.0L451.0 371.3ZM422.3 368.5L427.6 363.2L432.9 368.5L427.6 373.8ZM428.2 368.5L433.5 363.2L438.8 368.5L433.5 373.8ZM434.0 368.5L439.3 363.2L444.6 368.5L439.3 373.8ZM439.8 368.5L445.1 363.2L450.4 368.5L445.1 373.8ZM445.7 368.5L451.0 363.2L456.3 368.5L451.0 373.8ZM422.3 371.0L427.6 365.7L432.9 371.0L427.6 376.3ZM428.2 371.0L433.5 365.7L438.8 371.0L433.5 376.3ZM434.0 371.0L439.3 365.7L444.6 371.0L439.3 376.3ZM439.8 371.0L445.1 365.7L450.4 371.0L445.1 376.3ZM445.7 371.0L451.0 365.7L456.3 371.0L451.0 376.3ZM422.3 373.5L427.6 368.2L432.9 373.5L427.6 378.8ZM428.2 373.5L433.5 368.2L438.8 373.5L433.5 378.8ZM434.0 373.5L439.3 368.2L444.6 373.5L439.3 378.8ZM439.8 373.5L445.1 368.2L450.4 373.5L445.1 378.8ZM445.7 373.5L451.0 368.2L456.3 373.5L451.0 378.8ZM422.3 376.0L427.6 370.7L432.9 376.0L427.6 381.3ZM428.2 376.0L433.5 370.7L438.8 376.0L433.5 381.3ZM434.0 376.0L439.3 370.7L444.6 376.0L439.3 381.3ZM439.8 376.0L445.1 370.7L450.4 376.0L445.1 381.3ZM445.7 376.0L451.0 370.7L456.3 376.0L451.0 381.3ZM422.3 378.5L427.6 373.2L432.9 378.5L427.6 383.8ZM428.2 378.5L433.5 373.2L438.8 378.5L433.5 383.8ZM434.0 378.5L439.3 373.2L444.6 378.5L439.3 383.8ZM439.8 378.5L445.1 373.2L450.4 378.5L445.1 383.8ZM445.7 378.5L451.0 373.2L456.3 378.5L451.0 383.8ZM422.3 381.0L427.6 375.7L432.9 381.0L427.6 386.3ZM428.2 381.0L433.5 375.7L438.8 381.0L433.5 386.3ZM434.0 381.0L439.3 375.7L444.6 381.0L439.3 386.3ZM439.8 381.0L445.1 375.7L450.4 381.0L445.1 386.3ZM445.7 381.0L451.0 375.7L456.3 381.0L451.0 386.3ZM422.3 383.5L427.6 378.2L432.9 383.5L427.6 388.8ZM428.2 383.5L433.5 378.2L438.8 383.5L433.5 388.8ZM434.0 383.5L439.3 378.2L444.6 383.5L439.3 388.8ZM439.8 383.5L445.1 378.2L450.4 383.5L445.1 388.8ZM445.7 383.5L451.0 378.2L456.3 383.5L451.0 388.8ZM426.3 378H452.3V388.3H426.3ZM427.6 331H451V384H427.6ZM487.0 192.5L492.3 187.2L497.6 192.5L492.3 197.8ZM487.0 204.8L492.3 199.5L497.6 204.8L492.3 210.1ZM492.6 235.1L497.9 229.8L503.2 235.1L497.9 240.4ZM481.3 245.1L486.6 239.8L491.9 245.1L486.6 250.4ZM481.3 269.4L486.6 264.1L491.9 269.4L486.6 274.7ZM492.6 274.0L497.9 268.7L503.2 274.0L497.9 279.3ZM475.6 282.8L480.9 277.5L486.2 282.8L480.9 288.1ZM498.3 285.4L503.6 280.1L508.9 285.4L503.6 290.7ZM487.0 291.5L492.3 286.2L497.6 291.5L492.3 296.8ZM487.0 314.9L492.3 309.6L497.6 314.9L492.3 320.2ZM475.6 321.0L480.9 315.7L486.2 321.0L480.9 326.3ZM487.0 327.4L492.3 322.1L497.6 327.4L492.3 332.7ZM498.3 325.4L503.6 320.1L508.9 325.4L503.6 330.7ZM483.4 341.0L488.7 335.7L494.0 341.0L488.7 346.3ZM492.9 341.6L498.2 336.3L503.5 341.6L498.2 346.9ZM492.9 347.0L498.2 341.7L503.5 347.0L498.2 352.3ZM483.4 344.5L488.7 339.2L494.0 344.5L488.7 349.8ZM487.0 351.8L492.3 346.5L497.6 351.8L492.3 357.1ZM487.0 352.0L492.3 346.7L497.6 352.0L492.3 357.3ZM487.0 354.5L492.3 349.2L497.6 354.5L492.3 359.8ZM487.0 357.0L492.3 351.7L497.6 357.0L492.3 362.3ZM478.3 357.0L483.6 351.7L488.9 357.0L483.6 362.3ZM484.1 357.0L489.4 351.7L494.7 357.0L489.4 362.3ZM489.9 357.0L495.2 351.7L500.5 357.0L495.2 362.3ZM495.7 357.0L501.0 351.7L506.3 357.0L501.0 362.3ZM478.3 359.5L483.6 354.2L488.9 359.5L483.6 364.8ZM484.1 359.5L489.4 354.2L494.7 359.5L489.4 364.8ZM489.9 359.5L495.2 354.2L500.5 359.5L495.2 364.8ZM495.7 359.5L501.0 354.2L506.3 359.5L501.0 364.8ZM478.3 362.0L483.6 356.7L488.9 362.0L483.6 367.3ZM484.1 362.0L489.4 356.7L494.7 362.0L489.4 367.3ZM489.9 362.0L495.2 356.7L500.5 362.0L495.2 367.3ZM495.7 362.0L501.0 356.7L506.3 362.0L501.0 367.3ZM478.3 361.0L483.6 355.7L488.9 361.0L483.6 366.3ZM484.1 361.0L489.4 355.7L494.7 361.0L489.4 366.3ZM489.9 361.0L495.2 355.7L500.5 361.0L495.2 366.3ZM495.7 361.0L501.0 355.7L506.3 361.0L501.0 366.3ZM478.3 363.5L483.6 358.2L488.9 363.5L483.6 368.8ZM484.1 363.5L489.4 358.2L494.7 363.5L489.4 368.8ZM489.9 363.5L495.2 358.2L500.5 363.5L495.2 368.8ZM495.7 363.5L501.0 358.2L506.3 363.5L501.0 368.8ZM478.3 366.0L483.6 360.7L488.9 366.0L483.6 371.3ZM484.1 366.0L489.4 360.7L494.7 366.0L489.4 371.3ZM489.9 366.0L495.2 360.7L500.5 366.0L495.2 371.3ZM495.7 366.0L501.0 360.7L506.3 366.0L501.0 371.3ZM474.7 365.0L480.0 359.7L485.3 365.0L480.0 370.3ZM481.2 365.0L486.5 359.7L491.8 365.0L486.5 370.3ZM487.0 365.0L492.3 359.7L497.6 365.0L492.3 370.3ZM492.8 365.0L498.1 359.7L503.4 365.0L498.1 370.3ZM499.3 365.0L504.6 359.7L509.9 365.0L504.6 370.3ZM474.7 367.5L480.0 362.2L485.3 367.5L480.0 372.8ZM481.2 367.5L486.5 362.2L491.8 367.5L486.5 372.8ZM487.0 367.5L492.3 362.2L497.6 367.5L492.3 372.8ZM492.8 367.5L498.1 362.2L503.4 367.5L498.1 372.8ZM499.3 367.5L504.6 362.2L509.9 367.5L504.6 372.8ZM474.7 370.0L480.0 364.7L485.3 370.0L480.0 375.3ZM481.2 370.0L486.5 364.7L491.8 370.0L486.5 375.3ZM487.0 370.0L492.3 364.7L497.6 370.0L492.3 375.3ZM492.8 370.0L498.1 364.7L503.4 370.0L498.1 375.3ZM499.3 370.0L504.6 364.7L509.9 370.0L504.6 375.3ZM474.7 372.5L480.0 367.2L485.3 372.5L480.0 377.8ZM481.2 372.5L486.5 367.2L491.8 372.5L486.5 377.8ZM487.0 372.5L492.3 367.2L497.6 372.5L492.3 377.8ZM492.8 372.5L498.1 367.2L503.4 372.5L498.1 377.8ZM499.3 372.5L504.6 367.2L509.9 372.5L504.6 377.8ZM474.7 375.0L480.0 369.7L485.3 375.0L480.0 380.3ZM481.2 375.0L486.5 369.7L491.8 375.0L486.5 380.3ZM487.0 375.0L492.3 369.7L497.6 375.0L492.3 380.3ZM492.8 375.0L498.1 369.7L503.4 375.0L498.1 380.3ZM499.3 375.0L504.6 369.7L509.9 375.0L504.6 380.3ZM474.7 377.5L480.0 372.2L485.3 377.5L480.0 382.8ZM481.2 377.5L486.5 372.2L491.8 377.5L486.5 382.8ZM487.0 377.5L492.3 372.2L497.6 377.5L492.3 382.8ZM492.8 377.5L498.1 372.2L503.4 377.5L498.1 382.8ZM499.3 377.5L504.6 372.2L509.9 377.5L504.6 382.8ZM474.7 380.0L480.0 374.7L485.3 380.0L480.0 385.3ZM481.2 380.0L486.5 374.7L491.8 380.0L486.5 385.3ZM487.0 380.0L492.3 374.7L497.6 380.0L492.3 385.3ZM492.8 380.0L498.1 374.7L503.4 380.0L498.1 385.3ZM499.3 380.0L504.6 374.7L509.9 380.0L504.6 385.3ZM474.7 382.5L480.0 377.2L485.3 382.5L480.0 387.8ZM481.2 382.5L486.5 377.2L491.8 382.5L486.5 387.8ZM487.0 382.5L492.3 377.2L497.6 382.5L492.3 387.8ZM492.8 382.5L498.1 377.2L503.4 382.5L498.1 387.8ZM499.3 382.5L504.6 377.2L509.9 382.5L504.6 387.8ZM479.3 378H505.3V388.3H479.3ZM480 370H504.6V384H480Z" fill="#000" stroke="none"/>
<g fill="#fff" stroke="none"><circle cx="327.8" cy="356" r="0.9"/><circle cx="339.8" cy="356" r="0.9"/><circle cx="327.8" cy="368" r="0.9"/><circle cx="339.8" cy="368" r="0.9"/><circle cx="327.8" cy="379.8" r="0.9"/><circle cx="339.8" cy="379.8" r="0.9"/><circle cx="380.5" cy="341.8" r="0.9"/><circle cx="392.7" cy="341.8" r="0.9"/><circle cx="380.5" cy="353" r="0.9"/><circle cx="392.7" cy="353" r="0.9"/><circle cx="380.5" cy="354.5" r="0.9"/><circle cx="392.7" cy="354.5" r="0.9"/><circle cx="380.5" cy="356" r="0.9"/><circle cx="392.7" cy="356" r="0.9"/><circle cx="380.5" cy="368.4" r="0.9"/><circle cx="392.7" cy="368.4" r="0.9"/><circle cx="380.5" cy="380" r="0.9"/><circle cx="392.7" cy="380" r="0.9"/><circle cx="433.5" cy="333" r="0.9"/><circle cx="445" cy="333" r="0.9"/><circle cx="433.5" cy="344" r="0.9"/><circle cx="445" cy="344" r="0.9"/><circle cx="433.5" cy="357" r="0.9"/><circle cx="445" cy="357" r="0.9"/><circle cx="433.5" cy="368.6" r="0.9"/><circle cx="445" cy="368.6" r="0.9"/><circle cx="433.5" cy="380" r="0.9"/><circle cx="445" cy="380" r="0.9"/><circle cx="486.5" cy="363.5" r="0.9"/><circle cx="498" cy="363.5" r="0.9"/><circle cx="486.5" cy="368.5" r="0.9"/><circle cx="498" cy="368.5" r="0.9"/><circle cx="486.5" cy="379" r="0.9"/><circle cx="498" cy="379" r="0.9"/></g>
<path d="M113 377.3H132.8M165 373.6H185.6M218.5 367.5H240.5M270.8 375.3H291.2" stroke="#fff" stroke-width="0.9" fill="none"/>
<path d="M113 380.0H132.8M165 376.5H185.6M218.5 370.5H240.5M270.8 378.3H291.2" stroke="#fff" stroke-width="1.3" fill="none"/>
<text x="232.45" y="10.00" font-size="14" textLength="144.41" lengthAdjust="spacingAndGlyphs" >Patients tested positive</text>
<text x="-0.7" y="54.3" font-size="14">%</text>
<text x="-0.9" y="80.4" font-size="14">n=</text>
<text x="114.07" y="54.10" font-size="14" textLength="32.58" lengthAdjust="spacingAndGlyphs" >2.4%</text>
<text x="163.92" y="54.10" font-size="14" textLength="31.34" lengthAdjust="spacingAndGlyphs" >5.0%</text>
<text x="213.15" y="54.10" font-size="14" textLength="32.18" lengthAdjust="spacingAndGlyphs" >8.0%</text>
<text x="261.92" y="54.10" font-size="14" textLength="32.18" lengthAdjust="spacingAndGlyphs" >5.0%</text>
<text x="317.15" y="54.10" font-size="14" textLength="32.18" lengthAdjust="spacingAndGlyphs" >9.6%</text>
<text x="365.30" y="54.10" font-size="14" textLength="38.52" lengthAdjust="spacingAndGlyphs" >17.5%</text>
<text x="422.00" y="54.10" font-size="14" textLength="39.55" lengthAdjust="spacingAndGlyphs" >26.6%</text>
<text x="472.30" y="54.10" font-size="14" textLength="37.28" lengthAdjust="spacingAndGlyphs" >11.2%</text>
<text x="109.84" y="80.40" font-size="14" textLength="40.81" lengthAdjust="spacingAndGlyphs" >14/591</text>
<text x="159.23" y="80.40" font-size="14" textLength="39.47" lengthAdjust="spacingAndGlyphs" >29/578</text>
<text x="208.31" y="80.40" font-size="14" textLength="42.24" lengthAdjust="spacingAndGlyphs" >46/578</text>
<text x="261.00" y="80.40" font-size="14" textLength="33.00" lengthAdjust="spacingAndGlyphs" >8/161</text>
<text x="312.23" y="80.40" font-size="14" textLength="41.78" lengthAdjust="spacingAndGlyphs" >57/591</text>
<text x="359.53" y="80.40" font-size="14" textLength="48.71" lengthAdjust="spacingAndGlyphs" >101/578</text>
<text x="414.53" y="80.40" font-size="14" textLength="50.69" lengthAdjust="spacingAndGlyphs" >154/578</text>
<text x="470.53" y="80.40" font-size="14" textLength="40.81" lengthAdjust="spacingAndGlyphs" >18/161</text>
<text x="72.46" y="92.90" font-size="14" textLength="19.31" lengthAdjust="spacingAndGlyphs" >4.0</text>
<text x="72.46" y="130.20" font-size="14" textLength="19.36" lengthAdjust="spacingAndGlyphs" >3.5</text>
<text x="72.46" y="167.50" font-size="14" textLength="19.36" lengthAdjust="spacingAndGlyphs" >3.0</text>
<text x="72.46" y="204.80" font-size="14" textLength="19.36" lengthAdjust="spacingAndGlyphs" >2.5</text>
<text x="72.46" y="242.10" font-size="14" textLength="19.36" lengthAdjust="spacingAndGlyphs" >2.0</text>
<text x="71.76" y="279.40" font-size="14" textLength="20.06" lengthAdjust="spacingAndGlyphs" >1.5</text>
<text x="71.76" y="316.70" font-size="14" textLength="20.06" lengthAdjust="spacingAndGlyphs" >1.0</text>
<text x="72.46" y="391.40" font-size="14" textLength="19.31" lengthAdjust="spacingAndGlyphs" >0.0</text>
<text x="49.23" y="353.80" font-size="14" textLength="41.69" lengthAdjust="spacingAndGlyphs" >Cut off</text>
<text transform="translate(46.6 280) rotate(-90)" x="0" y="0" font-size="14" textLength="125.9" lengthAdjust="spacingAndGlyphs">Optical density (OD)</text>
<text x="0.30" y="402.60" font-size="14" textLength="30.72" lengthAdjust="spacingAndGlyphs" >Days</text>
<text x="-0.00" y="418.60" font-size="14" textLength="76.40" lengthAdjust="spacingAndGlyphs" >after surgery</text>
<text x="118.54" y="403.20" font-size="14" textLength="7.50" lengthAdjust="spacingAndGlyphs" >0</text>
<text x="169.61" y="403.20" font-size="14" textLength="8.24" lengthAdjust="spacingAndGlyphs" >6</text>
<text x="329.92" y="403.20" font-size="14" textLength="8.24" lengthAdjust="spacingAndGlyphs" >0</text>
<text x="381.07" y="403.20" font-size="14" textLength="8.24" lengthAdjust="spacingAndGlyphs" >6</text>
<text x="220.30" y="403.20" font-size="14" textLength="15.11" lengthAdjust="spacingAndGlyphs" >10</text>
<text x="430.30" y="403.20" font-size="14" textLength="15.11" lengthAdjust="spacingAndGlyphs" >10</text>
<text x="264.84" y="403.20" font-size="14" textLength="31.18" lengthAdjust="spacingAndGlyphs" >&gt;120</text>
<text x="476.46" y="403.20" font-size="14" textLength="30.24" lengthAdjust="spacingAndGlyphs" >&gt;120</text>
<text x="161.30" y="439.30" font-size="14" textLength="88.08" lengthAdjust="spacingAndGlyphs" >protamine EIA</text>
<text x="340.30" y="439.30" font-size="14" textLength="142.24" lengthAdjust="spacingAndGlyphs" >protamine-heparin EIA</text>
</svg>
</body></html>
